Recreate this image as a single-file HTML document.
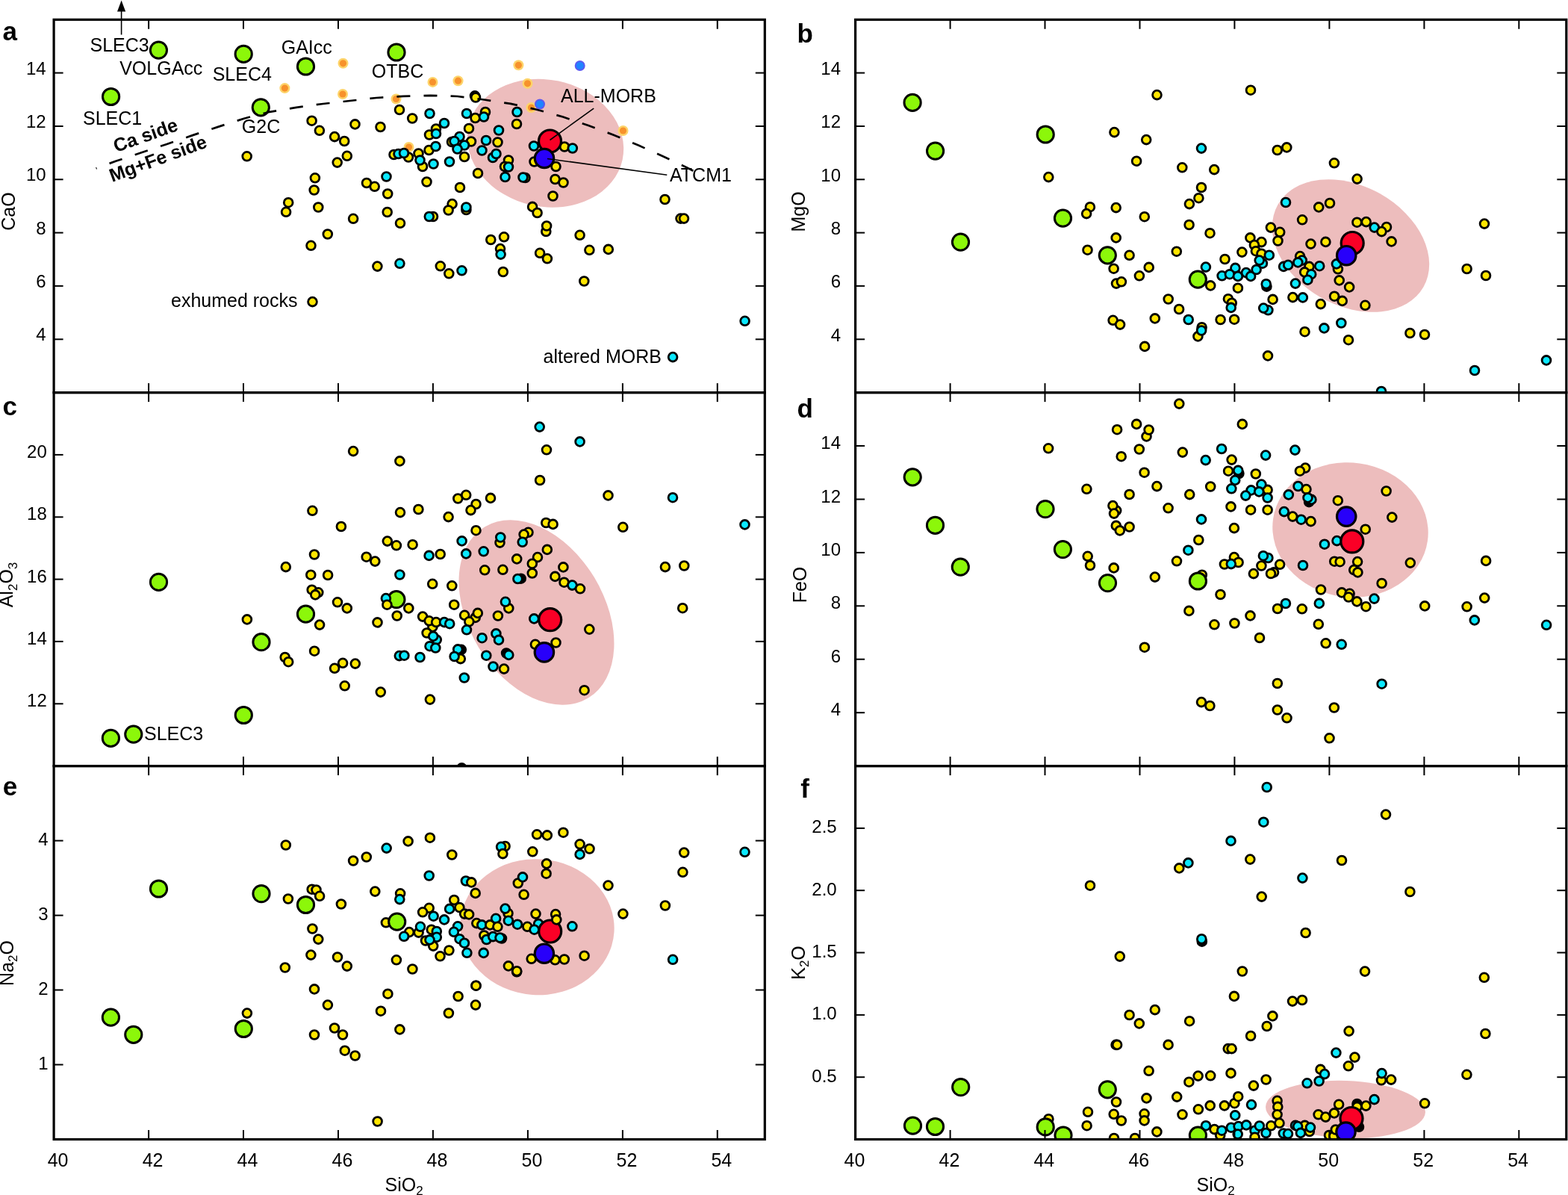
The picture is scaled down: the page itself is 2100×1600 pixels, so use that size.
<!DOCTYPE html><html><head><meta charset="utf-8"><style>html,body{margin:0;padding:0;background:#fff;overflow:hidden}svg{display:block}</style></head><body><svg xmlns="http://www.w3.org/2000/svg" width="2100" height="1600" viewBox="0 0 2100 1600" font-family="Liberation Sans, Arial, Helvetica, sans-serif">
<rect width="2100" height="1600" fill="#fff"/>
<clipPath id="cp1"><rect x="72.1" y="26.3" width="952.2" height="499.3"/></clipPath><g clip-path="url(#cp1)">
<ellipse cx="730.5" cy="191.7" rx="105.5" ry="85" transform="rotate(12 730.5 191.7)" fill="#EDBDBD"/>
<circle cx="459.5" cy="84.8" r="7" fill="#FDD46A"/><circle cx="459.5" cy="84.8" r="4.6" fill="#F7922C"/>
<circle cx="381.4" cy="118.1" r="7" fill="#FDD46A"/><circle cx="381.4" cy="118.1" r="4.6" fill="#F7922C"/>
<circle cx="459.0" cy="126.0" r="7" fill="#FDD46A"/><circle cx="459.0" cy="126.0" r="4.6" fill="#F7922C"/>
<circle cx="530.5" cy="132.5" r="7" fill="#FDD46A"/><circle cx="530.5" cy="132.5" r="4.6" fill="#F7922C"/>
<circle cx="547.5" cy="197.0" r="7" fill="#FDD46A"/><circle cx="547.5" cy="197.0" r="4.6" fill="#F7922C"/>
<circle cx="694.4" cy="87.3" r="7" fill="#FDD46A"/><circle cx="694.4" cy="87.3" r="4.6" fill="#F7922C"/>
<circle cx="579.5" cy="109.9" r="7" fill="#FDD46A"/><circle cx="579.5" cy="109.9" r="4.6" fill="#F7922C"/>
<circle cx="613.5" cy="108.2" r="7" fill="#FDD46A"/><circle cx="613.5" cy="108.2" r="4.6" fill="#F7922C"/>
<circle cx="706.5" cy="111.8" r="7" fill="#FDD46A"/><circle cx="706.5" cy="111.8" r="4.6" fill="#F7922C"/>
<circle cx="711.5" cy="144.0" r="7" fill="#FDD46A"/><circle cx="711.5" cy="144.0" r="4.6" fill="#F7922C"/>
<circle cx="834.5" cy="175.0" r="7" fill="#FDD46A"/><circle cx="834.5" cy="175.0" r="4.6" fill="#F7922C"/>
<circle cx="776.7" cy="88.0" r="7" fill="#5A5AF2"/><circle cx="776.7" cy="88.0" r="5" fill="#1F84FF"/>
<circle cx="723.0" cy="139.5" r="7" fill="#5A5AF2"/><circle cx="723.0" cy="139.5" r="5" fill="#1F84FF"/>
<circle cx="212.4" cy="67.1" r="11.1" fill="#8CF70A" stroke="#000" stroke-width="3"/>
<circle cx="148.6" cy="129.5" r="11.1" fill="#8CF70A" stroke="#000" stroke-width="3"/>
<circle cx="326.2" cy="72.4" r="11.1" fill="#8CF70A" stroke="#000" stroke-width="3"/>
<circle cx="409.5" cy="89.0" r="11.1" fill="#8CF70A" stroke="#000" stroke-width="3"/>
<circle cx="531.0" cy="70.0" r="11.1" fill="#8CF70A" stroke="#000" stroke-width="3"/>
<circle cx="349.3" cy="143.8" r="11.1" fill="#8CF70A" stroke="#000" stroke-width="3"/>
<circle cx="417.6" cy="161.7" r="5.9" fill="#FFE500" stroke="#000" stroke-width="2.8"/>
<circle cx="427.9" cy="174.8" r="5.9" fill="#FFE500" stroke="#000" stroke-width="2.8"/>
<circle cx="475.5" cy="166.4" r="5.9" fill="#FFE500" stroke="#000" stroke-width="2.8"/>
<circle cx="509.5" cy="170.0" r="5.9" fill="#FFE500" stroke="#000" stroke-width="2.8"/>
<circle cx="448.1" cy="183.1" r="5.9" fill="#FFE500" stroke="#000" stroke-width="2.8"/>
<circle cx="461.2" cy="189.0" r="5.9" fill="#FFE500" stroke="#000" stroke-width="2.8"/>
<circle cx="464.8" cy="208.8" r="5.9" fill="#FFE500" stroke="#000" stroke-width="2.8"/>
<circle cx="451.7" cy="217.6" r="5.9" fill="#FFE500" stroke="#000" stroke-width="2.8"/>
<circle cx="330.7" cy="209.3" r="5.9" fill="#FFE500" stroke="#000" stroke-width="2.8"/>
<circle cx="421.9" cy="238.3" r="5.9" fill="#FFE500" stroke="#000" stroke-width="2.8"/>
<circle cx="420.7" cy="254.5" r="5.9" fill="#FFE500" stroke="#000" stroke-width="2.8"/>
<circle cx="491.0" cy="245.0" r="5.9" fill="#FFE500" stroke="#000" stroke-width="2.8"/>
<circle cx="501.7" cy="249.8" r="5.9" fill="#FFE500" stroke="#000" stroke-width="2.8"/>
<circle cx="519.2" cy="259.5" r="5.9" fill="#FFE500" stroke="#000" stroke-width="2.8"/>
<circle cx="386.2" cy="271.2" r="5.9" fill="#FFE500" stroke="#000" stroke-width="2.8"/>
<circle cx="383.1" cy="283.8" r="5.9" fill="#FFE500" stroke="#000" stroke-width="2.8"/>
<circle cx="426.3" cy="277.5" r="5.9" fill="#FFE500" stroke="#000" stroke-width="2.8"/>
<circle cx="473.1" cy="292.8" r="5.9" fill="#FFE500" stroke="#000" stroke-width="2.8"/>
<circle cx="518.7" cy="284.0" r="5.9" fill="#FFE500" stroke="#000" stroke-width="2.8"/>
<circle cx="536.0" cy="298.8" r="5.9" fill="#FFE500" stroke="#000" stroke-width="2.8"/>
<circle cx="438.8" cy="313.5" r="5.9" fill="#FFE500" stroke="#000" stroke-width="2.8"/>
<circle cx="416.5" cy="328.8" r="5.9" fill="#FFE500" stroke="#000" stroke-width="2.8"/>
<circle cx="505.4" cy="356.6" r="5.9" fill="#FFE500" stroke="#000" stroke-width="2.8"/>
<circle cx="418.5" cy="404.1" r="5.9" fill="#FFE500" stroke="#000" stroke-width="2.8"/>
<circle cx="535.4" cy="352.8" r="5.9" fill="#0BE8FF" stroke="#000" stroke-width="2.8"/>
<circle cx="636.0" cy="128.3" r="5.9" fill="#FFE500" stroke="#000" stroke-width="2.8"/>
<circle cx="637.0" cy="130.5" r="5.9" fill="#FFE500" stroke="#000" stroke-width="2.8"/>
<circle cx="535.0" cy="147.0" r="5.9" fill="#FFE500" stroke="#000" stroke-width="2.8"/>
<circle cx="552.2" cy="158.5" r="5.9" fill="#FFE500" stroke="#000" stroke-width="2.8"/>
<circle cx="575.5" cy="152.0" r="5.9" fill="#0BE8FF" stroke="#000" stroke-width="2.8"/>
<circle cx="625.0" cy="152.0" r="5.9" fill="#0BE8FF" stroke="#000" stroke-width="2.8"/>
<circle cx="636.5" cy="158.0" r="5.9" fill="#FFE500" stroke="#000" stroke-width="2.8"/>
<circle cx="650.0" cy="150.0" r="5.9" fill="#FFE500" stroke="#000" stroke-width="2.8"/>
<circle cx="648.0" cy="156.5" r="5.9" fill="#0BE8FF" stroke="#000" stroke-width="2.8"/>
<circle cx="692.5" cy="150.0" r="5.9" fill="#0BE8FF" stroke="#000" stroke-width="2.8"/>
<circle cx="692.0" cy="166.0" r="5.9" fill="#FFE500" stroke="#000" stroke-width="2.8"/>
<circle cx="584.0" cy="172.5" r="5.9" fill="#FFE500" stroke="#000" stroke-width="2.8"/>
<circle cx="595.0" cy="165.0" r="5.9" fill="#0BE8FF" stroke="#000" stroke-width="2.8"/>
<circle cx="575.0" cy="180.5" r="5.9" fill="#FFE500" stroke="#000" stroke-width="2.8"/>
<circle cx="584.0" cy="179.0" r="5.9" fill="#0BE8FF" stroke="#000" stroke-width="2.8"/>
<circle cx="628.0" cy="172.0" r="5.9" fill="#FFE500" stroke="#000" stroke-width="2.8"/>
<circle cx="668.0" cy="174.5" r="5.9" fill="#0BE8FF" stroke="#000" stroke-width="2.8"/>
<circle cx="615.5" cy="183.0" r="5.9" fill="#0BE8FF" stroke="#000" stroke-width="2.8"/>
<circle cx="605.0" cy="190.0" r="5.9" fill="#FFE500" stroke="#000" stroke-width="2.8"/>
<circle cx="608.5" cy="189.0" r="5.9" fill="#0BE8FF" stroke="#000" stroke-width="2.8"/>
<circle cx="631.0" cy="189.5" r="5.9" fill="#FFE500" stroke="#000" stroke-width="2.8"/>
<circle cx="651.0" cy="188.0" r="5.9" fill="#0BE8FF" stroke="#000" stroke-width="2.8"/>
<circle cx="666.5" cy="190.5" r="5.9" fill="#FFE500" stroke="#000" stroke-width="2.8"/>
<circle cx="622.0" cy="194.5" r="5.9" fill="#0BE8FF" stroke="#000" stroke-width="2.8"/>
<circle cx="612.5" cy="199.5" r="5.9" fill="#0BE8FF" stroke="#000" stroke-width="2.8"/>
<circle cx="622.0" cy="210.0" r="5.9" fill="#FFE500" stroke="#000" stroke-width="2.8"/>
<circle cx="645.5" cy="201.5" r="5.9" fill="#0BE8FF" stroke="#000" stroke-width="2.8"/>
<circle cx="660.0" cy="211.0" r="5.9" fill="#0BE8FF" stroke="#000" stroke-width="2.8"/>
<circle cx="664.5" cy="206.0" r="5.9" fill="#0BE8FF" stroke="#000" stroke-width="2.8"/>
<circle cx="681.0" cy="214.5" r="5.9" fill="#FFE500" stroke="#000" stroke-width="2.8"/>
<circle cx="676.0" cy="223.0" r="5.9" fill="#FFE500" stroke="#000" stroke-width="2.8"/>
<circle cx="681.0" cy="223.5" r="5.9" fill="#0BE8FF" stroke="#000" stroke-width="2.8"/>
<circle cx="676.5" cy="237.0" r="5.9" fill="#0BE8FF" stroke="#000" stroke-width="2.8"/>
<circle cx="703.5" cy="238.0" r="5.9" fill="#FFE500" stroke="#000" stroke-width="2.8"/>
<circle cx="700.5" cy="237.5" r="5.9" fill="#0BE8FF" stroke="#000" stroke-width="2.8"/>
<circle cx="640.0" cy="232.0" r="5.9" fill="#FFE500" stroke="#000" stroke-width="2.8"/>
<circle cx="616.0" cy="251.0" r="5.9" fill="#FFE500" stroke="#000" stroke-width="2.8"/>
<circle cx="571.5" cy="243.5" r="5.9" fill="#FFE500" stroke="#000" stroke-width="2.8"/>
<circle cx="517.5" cy="236.5" r="5.9" fill="#0BE8FF" stroke="#000" stroke-width="2.8"/>
<circle cx="527.5" cy="207.0" r="5.9" fill="#FFE500" stroke="#000" stroke-width="2.8"/>
<circle cx="533.5" cy="206.0" r="5.9" fill="#0BE8FF" stroke="#000" stroke-width="2.8"/>
<circle cx="547.0" cy="210.5" r="5.9" fill="#FFE500" stroke="#000" stroke-width="2.8"/>
<circle cx="541.0" cy="205.0" r="5.9" fill="#0BE8FF" stroke="#000" stroke-width="2.8"/>
<circle cx="560.5" cy="205.5" r="5.9" fill="#FFE500" stroke="#000" stroke-width="2.8"/>
<circle cx="566.0" cy="223.0" r="5.9" fill="#FFE500" stroke="#000" stroke-width="2.8"/>
<circle cx="562.5" cy="214.5" r="5.9" fill="#0BE8FF" stroke="#000" stroke-width="2.8"/>
<circle cx="574.5" cy="201.0" r="5.9" fill="#FFE500" stroke="#000" stroke-width="2.8"/>
<circle cx="583.5" cy="196.0" r="5.9" fill="#0BE8FF" stroke="#000" stroke-width="2.8"/>
<circle cx="580.5" cy="219.5" r="5.9" fill="#0BE8FF" stroke="#000" stroke-width="2.8"/>
<circle cx="602.0" cy="216.5" r="5.9" fill="#0BE8FF" stroke="#000" stroke-width="2.8"/>
<circle cx="715.0" cy="195.5" r="5.9" fill="#0BE8FF" stroke="#000" stroke-width="2.8"/>
<circle cx="715.5" cy="216.5" r="5.9" fill="#FFE500" stroke="#000" stroke-width="2.8"/>
<circle cx="605.6" cy="273.1" r="5.9" fill="#FFE500" stroke="#000" stroke-width="2.8"/>
<circle cx="600.6" cy="281.5" r="5.9" fill="#FFE500" stroke="#000" stroke-width="2.8"/>
<circle cx="624.4" cy="281.0" r="5.9" fill="#FFE500" stroke="#000" stroke-width="2.8"/>
<circle cx="624.4" cy="277.5" r="5.9" fill="#0BE8FF" stroke="#000" stroke-width="2.8"/>
<circle cx="713.1" cy="276.9" r="5.9" fill="#FFE500" stroke="#000" stroke-width="2.8"/>
<circle cx="756.0" cy="196.5" r="5.9" fill="#FFE500" stroke="#000" stroke-width="2.8"/>
<circle cx="766.8" cy="198.5" r="5.9" fill="#0BE8FF" stroke="#000" stroke-width="2.8"/>
<circle cx="743.5" cy="240.0" r="5.9" fill="#FFE500" stroke="#000" stroke-width="2.8"/>
<circle cx="754.5" cy="244.5" r="5.9" fill="#FFE500" stroke="#000" stroke-width="2.8"/>
<circle cx="740.5" cy="262.5" r="5.9" fill="#FFE500" stroke="#000" stroke-width="2.8"/>
<circle cx="890.5" cy="267.0" r="5.9" fill="#FFE500" stroke="#000" stroke-width="2.8"/>
<circle cx="719.6" cy="285.0" r="5.9" fill="#FFE500" stroke="#000" stroke-width="2.8"/>
<circle cx="580.0" cy="290.0" r="5.9" fill="#FFE500" stroke="#000" stroke-width="2.8"/>
<circle cx="574.8" cy="290.0" r="5.9" fill="#0BE8FF" stroke="#000" stroke-width="2.8"/>
<circle cx="731.3" cy="310.0" r="5.9" fill="#FFE500" stroke="#000" stroke-width="2.8"/>
<circle cx="732.1" cy="302.5" r="5.9" fill="#FFE500" stroke="#000" stroke-width="2.8"/>
<circle cx="776.6" cy="314.8" r="5.9" fill="#FFE500" stroke="#000" stroke-width="2.8"/>
<circle cx="657.3" cy="321.0" r="5.9" fill="#FFE500" stroke="#000" stroke-width="2.8"/>
<circle cx="675.0" cy="317.3" r="5.9" fill="#FFE500" stroke="#000" stroke-width="2.8"/>
<circle cx="670.0" cy="333.1" r="5.9" fill="#FFE500" stroke="#000" stroke-width="2.8"/>
<circle cx="670.6" cy="340.6" r="5.9" fill="#0BE8FF" stroke="#000" stroke-width="2.8"/>
<circle cx="723.1" cy="338.8" r="5.9" fill="#FFE500" stroke="#000" stroke-width="2.8"/>
<circle cx="732.9" cy="346.3" r="5.9" fill="#FFE500" stroke="#000" stroke-width="2.8"/>
<circle cx="789.4" cy="334.8" r="5.9" fill="#FFE500" stroke="#000" stroke-width="2.8"/>
<circle cx="589.8" cy="356.3" r="5.9" fill="#FFE500" stroke="#000" stroke-width="2.8"/>
<circle cx="601.3" cy="366.3" r="5.9" fill="#FFE500" stroke="#000" stroke-width="2.8"/>
<circle cx="618.5" cy="362.3" r="5.9" fill="#0BE8FF" stroke="#000" stroke-width="2.8"/>
<circle cx="673.8" cy="364.0" r="5.9" fill="#FFE500" stroke="#000" stroke-width="2.8"/>
<circle cx="782.3" cy="376.5" r="5.9" fill="#FFE500" stroke="#000" stroke-width="2.8"/>
<circle cx="911.5" cy="292.6" r="5.9" fill="#FFE500" stroke="#000" stroke-width="2.8"/>
<circle cx="916.0" cy="292.6" r="5.9" fill="#FFE500" stroke="#000" stroke-width="2.8"/>
<circle cx="814.8" cy="333.9" r="5.9" fill="#FFE500" stroke="#000" stroke-width="2.8"/>
<circle cx="997.6" cy="429.8" r="5.9" fill="#0BE8FF" stroke="#000" stroke-width="2.8"/>
<circle cx="901.1" cy="478.1" r="5.9" fill="#0BE8FF" stroke="#000" stroke-width="2.8"/>
<circle cx="736.5" cy="189.0" r="15" fill="#FA0026" stroke="#000" stroke-width="3.2"/>
<circle cx="729.0" cy="212.0" r="12.7" fill="#2800FA" stroke="#000" stroke-width="3.2"/>
<circle cx="744.5" cy="223.0" r="5.9" fill="#FFE500" stroke="#000" stroke-width="2.8"/>
</g>
<path d="M128.6,225.4 L155,215.8 L189.5,204.2 L223.5,193 L258,181.1 L292,169.9 L326.7,158.7 L361.2,149.8 L396.9,143.8 L432.7,139 L468.4,135 L504,131 L540.4,128.9 L576.5,127.8 L612.8,129 L648.5,133.5 L684,138.9 L718.8,146.7 L754,156.5 L788,168 L821.8,180.7 L855,194.5 L887.8,209.3 L920.5,224.6 L928.4,228.8" fill="none" stroke="#000" stroke-width="2.7" stroke-dasharray="18 18.1" stroke-dashoffset="17"/>
<line x1="795.2" y1="145.1" x2="736.5" y2="187.5" stroke="#000" stroke-width="1.6"/>
<line x1="893.3" y1="234.2" x2="733" y2="212.5" stroke="#000" stroke-width="1.6"/>
<text x="120.5" y="69" font-size="25">SLEC3</text>
<text x="160.2" y="100.4" font-size="25">VOLGAcc</text>
<text x="284.7" y="107.5" font-size="25">SLEC4</text>
<text x="376.7" y="72.4" font-size="25">GAIcc</text>
<text x="497.8" y="103.8" font-size="25">OTBC</text>
<text x="111" y="167" font-size="25">SLEC1</text>
<text x="323.8" y="177.6" font-size="25">G2C</text>
<text x="751" y="137" font-size="25">ALL-MORB</text>
<text x="897" y="243.4" font-size="25">ATCM1</text>
<text x="229" y="410.6" font-size="25">exhumed rocks</text>
<text x="727.5" y="486.2" font-size="25">altered MORB</text>
<text transform="translate(155.5,204.3) rotate(-19.6)" font-size="25.2" font-weight="bold">Ca side</text>
<text transform="translate(150.3,244) rotate(-20.2)" font-size="25" font-weight="bold">Mg+Fe side</text>
<line x1="162.6" y1="46.5" x2="162.6" y2="12" stroke="#000" stroke-width="1.6"/>
<path d="M162.6,0.5 L157,15.5 L168.2,15.5 Z" fill="#000"/>
<rect x="72.1" y="26.3" width="952.2" height="499.3" fill="none" stroke="#000" stroke-width="3.2"/>
<line x1="199.1" y1="26.3" x2="199.1" y2="38.8" stroke="#000" stroke-width="2"/>
<line x1="199.1" y1="525.6" x2="199.1" y2="513.1" stroke="#000" stroke-width="2"/>
<line x1="326.0" y1="26.3" x2="326.0" y2="38.8" stroke="#000" stroke-width="2"/>
<line x1="326.0" y1="525.6" x2="326.0" y2="513.1" stroke="#000" stroke-width="2"/>
<line x1="453.0" y1="26.3" x2="453.0" y2="38.8" stroke="#000" stroke-width="2"/>
<line x1="453.0" y1="525.6" x2="453.0" y2="513.1" stroke="#000" stroke-width="2"/>
<line x1="579.9" y1="26.3" x2="579.9" y2="38.8" stroke="#000" stroke-width="2"/>
<line x1="579.9" y1="525.6" x2="579.9" y2="513.1" stroke="#000" stroke-width="2"/>
<line x1="706.9" y1="26.3" x2="706.9" y2="38.8" stroke="#000" stroke-width="2"/>
<line x1="706.9" y1="525.6" x2="706.9" y2="513.1" stroke="#000" stroke-width="2"/>
<line x1="833.9" y1="26.3" x2="833.9" y2="38.8" stroke="#000" stroke-width="2"/>
<line x1="833.9" y1="525.6" x2="833.9" y2="513.1" stroke="#000" stroke-width="2"/>
<line x1="960.8" y1="26.3" x2="960.8" y2="38.8" stroke="#000" stroke-width="2"/>
<line x1="960.8" y1="525.6" x2="960.8" y2="513.1" stroke="#000" stroke-width="2"/>
<line x1="72.1" y1="454.3" x2="84.6" y2="454.3" stroke="#000" stroke-width="2"/>
<line x1="1024.3" y1="454.3" x2="1011.8" y2="454.3" stroke="#000" stroke-width="2"/>
<text x="61.7" y="456.3" text-anchor="end" font-size="24">4</text>
<line x1="72.1" y1="382.9" x2="84.6" y2="382.9" stroke="#000" stroke-width="2"/>
<line x1="1024.3" y1="382.9" x2="1011.8" y2="382.9" stroke="#000" stroke-width="2"/>
<text x="61.7" y="384.9" text-anchor="end" font-size="24">6</text>
<line x1="72.1" y1="311.6" x2="84.6" y2="311.6" stroke="#000" stroke-width="2"/>
<line x1="1024.3" y1="311.6" x2="1011.8" y2="311.6" stroke="#000" stroke-width="2"/>
<text x="61.7" y="313.6" text-anchor="end" font-size="24">8</text>
<line x1="72.1" y1="240.3" x2="84.6" y2="240.3" stroke="#000" stroke-width="2"/>
<line x1="1024.3" y1="240.3" x2="1011.8" y2="240.3" stroke="#000" stroke-width="2"/>
<text x="61.7" y="242.3" text-anchor="end" font-size="24">10</text>
<line x1="72.1" y1="169.0" x2="84.6" y2="169.0" stroke="#000" stroke-width="2"/>
<line x1="1024.3" y1="169.0" x2="1011.8" y2="169.0" stroke="#000" stroke-width="2"/>
<text x="61.7" y="171.0" text-anchor="end" font-size="24">12</text>
<line x1="72.1" y1="97.6" x2="84.6" y2="97.6" stroke="#000" stroke-width="2"/>
<line x1="1024.3" y1="97.6" x2="1011.8" y2="97.6" stroke="#000" stroke-width="2"/>
<text x="61.7" y="99.6" text-anchor="end" font-size="24">14</text>
<clipPath id="cp2"><rect x="1145.6" y="26.3" width="952.2" height="499.3"/></clipPath><g clip-path="url(#cp2)">
<ellipse cx="1809" cy="329" rx="112" ry="80" transform="rotate(29.4 1809 329)" fill="#EDBDBD"/>
<circle cx="1222.1" cy="137.4" r="11.1" fill="#8CF70A" stroke="#000" stroke-width="3"/>
<circle cx="1252.6" cy="202.1" r="11.1" fill="#8CF70A" stroke="#000" stroke-width="3"/>
<circle cx="1400.2" cy="180.0" r="11.1" fill="#8CF70A" stroke="#000" stroke-width="3"/>
<circle cx="1286.5" cy="324.1" r="11.1" fill="#8CF70A" stroke="#000" stroke-width="3"/>
<circle cx="1423.5" cy="292.1" r="11.1" fill="#8CF70A" stroke="#000" stroke-width="3"/>
<circle cx="1483.3" cy="341.8" r="11.1" fill="#8CF70A" stroke="#000" stroke-width="3"/>
<circle cx="1604.3" cy="374.1" r="11.1" fill="#8CF70A" stroke="#000" stroke-width="3"/>
<circle cx="1549.5" cy="127.1" r="5.9" fill="#FFE500" stroke="#000" stroke-width="2.8"/>
<circle cx="1675.0" cy="120.7" r="5.9" fill="#FFE500" stroke="#000" stroke-width="2.8"/>
<circle cx="1492.4" cy="177.1" r="5.9" fill="#FFE500" stroke="#000" stroke-width="2.8"/>
<circle cx="1535.2" cy="187.1" r="5.9" fill="#FFE500" stroke="#000" stroke-width="2.8"/>
<circle cx="1609.0" cy="198.6" r="5.9" fill="#0BE8FF" stroke="#000" stroke-width="2.8"/>
<circle cx="1522.1" cy="215.7" r="5.9" fill="#FFE500" stroke="#000" stroke-width="2.8"/>
<circle cx="1583.3" cy="224.3" r="5.9" fill="#FFE500" stroke="#000" stroke-width="2.8"/>
<circle cx="1626.2" cy="227.1" r="5.9" fill="#FFE500" stroke="#000" stroke-width="2.8"/>
<circle cx="1404.3" cy="237.1" r="5.9" fill="#FFE500" stroke="#000" stroke-width="2.8"/>
<circle cx="1609.0" cy="251.0" r="5.9" fill="#FFE500" stroke="#000" stroke-width="2.8"/>
<circle cx="1605.4" cy="265.2" r="5.9" fill="#FFE500" stroke="#000" stroke-width="2.8"/>
<circle cx="1592.9" cy="273.1" r="5.9" fill="#FFE500" stroke="#000" stroke-width="2.8"/>
<circle cx="1710.7" cy="201.0" r="5.9" fill="#FFE500" stroke="#000" stroke-width="2.8"/>
<circle cx="1723.3" cy="197.4" r="5.9" fill="#FFE500" stroke="#000" stroke-width="2.8"/>
<circle cx="1786.9" cy="218.3" r="5.9" fill="#FFE500" stroke="#000" stroke-width="2.8"/>
<circle cx="1817.6" cy="239.6" r="5.9" fill="#FFE500" stroke="#000" stroke-width="2.8"/>
<circle cx="1722.0" cy="271.0" r="5.9" fill="#0BE8FF" stroke="#000" stroke-width="2.8"/>
<circle cx="1766.2" cy="277.4" r="5.9" fill="#FFE500" stroke="#000" stroke-width="2.8"/>
<circle cx="1781.0" cy="272.0" r="5.9" fill="#FFE500" stroke="#000" stroke-width="2.8"/>
<circle cx="1459.9" cy="277.2" r="5.9" fill="#FFE500" stroke="#000" stroke-width="2.8"/>
<circle cx="1455.1" cy="286.1" r="5.9" fill="#FFE500" stroke="#000" stroke-width="2.8"/>
<circle cx="1494.7" cy="278.1" r="5.9" fill="#FFE500" stroke="#000" stroke-width="2.8"/>
<circle cx="1532.8" cy="290.2" r="5.9" fill="#FFE500" stroke="#000" stroke-width="2.8"/>
<circle cx="1592.6" cy="301.0" r="5.9" fill="#FFE500" stroke="#000" stroke-width="2.8"/>
<circle cx="1620.5" cy="312.2" r="5.9" fill="#FFE500" stroke="#000" stroke-width="2.8"/>
<circle cx="1494.7" cy="318.4" r="5.9" fill="#FFE500" stroke="#000" stroke-width="2.8"/>
<circle cx="1456.5" cy="334.7" r="5.9" fill="#FFE500" stroke="#000" stroke-width="2.8"/>
<circle cx="1512.6" cy="341.8" r="5.9" fill="#FFE500" stroke="#000" stroke-width="2.8"/>
<circle cx="1575.8" cy="336.7" r="5.9" fill="#FFE500" stroke="#000" stroke-width="2.8"/>
<circle cx="1491.6" cy="359.7" r="5.9" fill="#FFE500" stroke="#000" stroke-width="2.8"/>
<circle cx="1538.7" cy="357.9" r="5.9" fill="#FFE500" stroke="#000" stroke-width="2.8"/>
<circle cx="1525.9" cy="369.3" r="5.9" fill="#FFE500" stroke="#000" stroke-width="2.8"/>
<circle cx="1495.0" cy="379.6" r="5.9" fill="#FFE500" stroke="#000" stroke-width="2.8"/>
<circle cx="1501.9" cy="377.3" r="5.9" fill="#FFE500" stroke="#000" stroke-width="2.8"/>
<circle cx="1614.9" cy="357.6" r="5.9" fill="#0BE8FF" stroke="#000" stroke-width="2.8"/>
<circle cx="1621.2" cy="382.4" r="5.9" fill="#FFE500" stroke="#000" stroke-width="2.8"/>
<circle cx="1640.5" cy="347.0" r="5.9" fill="#FFE500" stroke="#000" stroke-width="2.8"/>
<circle cx="1636.6" cy="369.3" r="5.9" fill="#0BE8FF" stroke="#000" stroke-width="2.8"/>
<circle cx="1564.7" cy="400.5" r="5.9" fill="#FFE500" stroke="#000" stroke-width="2.8"/>
<circle cx="1579.1" cy="414.0" r="5.9" fill="#FFE500" stroke="#000" stroke-width="2.8"/>
<circle cx="1644.9" cy="400.2" r="5.9" fill="#FFE500" stroke="#000" stroke-width="2.8"/>
<circle cx="1649.7" cy="405.7" r="5.9" fill="#FFE500" stroke="#000" stroke-width="2.8"/>
<circle cx="1648.7" cy="411.9" r="5.9" fill="#0BE8FF" stroke="#000" stroke-width="2.8"/>
<circle cx="1490.6" cy="428.8" r="5.9" fill="#FFE500" stroke="#000" stroke-width="2.8"/>
<circle cx="1500.1" cy="434.6" r="5.9" fill="#FFE500" stroke="#000" stroke-width="2.8"/>
<circle cx="1546.8" cy="426.4" r="5.9" fill="#FFE500" stroke="#000" stroke-width="2.8"/>
<circle cx="1591.7" cy="428.0" r="5.9" fill="#0BE8FF" stroke="#000" stroke-width="2.8"/>
<circle cx="1604.4" cy="450.4" r="5.9" fill="#FFE500" stroke="#000" stroke-width="2.8"/>
<circle cx="1609.6" cy="438.2" r="5.9" fill="#FFE500" stroke="#000" stroke-width="2.8"/>
<circle cx="1609.1" cy="442.5" r="5.9" fill="#0BE8FF" stroke="#000" stroke-width="2.8"/>
<circle cx="1634.6" cy="428.0" r="5.9" fill="#FFE500" stroke="#000" stroke-width="2.8"/>
<circle cx="1653.1" cy="427.7" r="5.9" fill="#FFE500" stroke="#000" stroke-width="2.8"/>
<circle cx="1533.1" cy="463.9" r="5.9" fill="#FFE500" stroke="#000" stroke-width="2.8"/>
<circle cx="1744.1" cy="294.3" r="5.9" fill="#FFE500" stroke="#000" stroke-width="2.8"/>
<circle cx="1817.4" cy="297.7" r="5.9" fill="#FFE500" stroke="#000" stroke-width="2.8"/>
<circle cx="1829.7" cy="297.1" r="5.9" fill="#FFE500" stroke="#000" stroke-width="2.8"/>
<circle cx="1840.7" cy="304.6" r="5.9" fill="#0BE8FF" stroke="#000" stroke-width="2.8"/>
<circle cx="1857.0" cy="304.0" r="5.9" fill="#FFE500" stroke="#000" stroke-width="2.8"/>
<circle cx="1850.4" cy="310.1" r="5.9" fill="#FFE500" stroke="#000" stroke-width="2.8"/>
<circle cx="1863.6" cy="323.4" r="5.9" fill="#FFE500" stroke="#000" stroke-width="2.8"/>
<circle cx="1701.9" cy="304.6" r="5.9" fill="#FFE500" stroke="#000" stroke-width="2.8"/>
<circle cx="1714.2" cy="310.8" r="5.9" fill="#FFE500" stroke="#000" stroke-width="2.8"/>
<circle cx="1711.5" cy="322.5" r="5.9" fill="#FFE500" stroke="#000" stroke-width="2.8"/>
<circle cx="1674.4" cy="318.4" r="5.9" fill="#FFE500" stroke="#000" stroke-width="2.8"/>
<circle cx="1689.5" cy="324.1" r="5.9" fill="#FFE500" stroke="#000" stroke-width="2.8"/>
<circle cx="1679.9" cy="328.0" r="5.9" fill="#FFE500" stroke="#000" stroke-width="2.8"/>
<circle cx="1681.9" cy="336.2" r="5.9" fill="#FFE500" stroke="#000" stroke-width="2.8"/>
<circle cx="1689.5" cy="339.7" r="5.9" fill="#FFE500" stroke="#000" stroke-width="2.8"/>
<circle cx="1699.8" cy="341.7" r="5.9" fill="#0BE8FF" stroke="#000" stroke-width="2.8"/>
<circle cx="1690.9" cy="352.7" r="5.9" fill="#0BE8FF" stroke="#000" stroke-width="2.8"/>
<circle cx="1686.7" cy="348.6" r="5.9" fill="#0BE8FF" stroke="#000" stroke-width="2.8"/>
<circle cx="1663.4" cy="337.6" r="5.9" fill="#FFE500" stroke="#000" stroke-width="2.8"/>
<circle cx="1654.4" cy="358.9" r="5.9" fill="#0BE8FF" stroke="#000" stroke-width="2.8"/>
<circle cx="1646.9" cy="367.2" r="5.9" fill="#0BE8FF" stroke="#000" stroke-width="2.8"/>
<circle cx="1657.9" cy="369.9" r="5.9" fill="#0BE8FF" stroke="#000" stroke-width="2.8"/>
<circle cx="1668.9" cy="365.1" r="5.9" fill="#0BE8FF" stroke="#000" stroke-width="2.8"/>
<circle cx="1675.1" cy="369.9" r="5.9" fill="#0BE8FF" stroke="#000" stroke-width="2.8"/>
<circle cx="1682.6" cy="361.0" r="5.9" fill="#0BE8FF" stroke="#000" stroke-width="2.8"/>
<circle cx="1657.9" cy="385.7" r="5.9" fill="#FFE500" stroke="#000" stroke-width="2.8"/>
<circle cx="1696.4" cy="383.7" r="5.9" fill="#000" stroke="#000" stroke-width="2.8"/>
<circle cx="1695.7" cy="380.2" r="5.9" fill="#0BE8FF" stroke="#000" stroke-width="2.8"/>
<circle cx="1704.6" cy="400.9" r="5.9" fill="#FFE500" stroke="#000" stroke-width="2.8"/>
<circle cx="1698.4" cy="415.3" r="5.9" fill="#0BE8FF" stroke="#000" stroke-width="2.8"/>
<circle cx="1692.2" cy="412.6" r="5.9" fill="#0BE8FF" stroke="#000" stroke-width="2.8"/>
<circle cx="1755.5" cy="326.6" r="5.9" fill="#FFE500" stroke="#000" stroke-width="2.8"/>
<circle cx="1775.4" cy="323.9" r="5.9" fill="#FFE500" stroke="#000" stroke-width="2.8"/>
<circle cx="1791.9" cy="360.3" r="5.9" fill="#FFE500" stroke="#000" stroke-width="2.8"/>
<circle cx="1789.9" cy="353.4" r="5.9" fill="#0BE8FF" stroke="#000" stroke-width="2.8"/>
<circle cx="1741.1" cy="343.1" r="5.9" fill="#FFE500" stroke="#000" stroke-width="2.8"/>
<circle cx="1719.1" cy="356.9" r="5.9" fill="#0BE8FF" stroke="#000" stroke-width="2.8"/>
<circle cx="1725.2" cy="354.8" r="5.9" fill="#0BE8FF" stroke="#000" stroke-width="2.8"/>
<circle cx="1743.8" cy="348.6" r="5.9" fill="#0BE8FF" stroke="#000" stroke-width="2.8"/>
<circle cx="1738.3" cy="351.4" r="5.9" fill="#0BE8FF" stroke="#000" stroke-width="2.8"/>
<circle cx="1753.4" cy="356.9" r="5.9" fill="#FFE500" stroke="#000" stroke-width="2.8"/>
<circle cx="1767.2" cy="356.2" r="5.9" fill="#0BE8FF" stroke="#000" stroke-width="2.8"/>
<circle cx="1747.2" cy="364.4" r="5.9" fill="#FFE500" stroke="#000" stroke-width="2.8"/>
<circle cx="1756.2" cy="367.2" r="5.9" fill="#0BE8FF" stroke="#000" stroke-width="2.8"/>
<circle cx="1751.4" cy="374.7" r="5.9" fill="#0BE8FF" stroke="#000" stroke-width="2.8"/>
<circle cx="1734.9" cy="379.6" r="5.9" fill="#0BE8FF" stroke="#000" stroke-width="2.8"/>
<circle cx="1793.7" cy="375.4" r="5.9" fill="#FFE500" stroke="#000" stroke-width="2.8"/>
<circle cx="1807.1" cy="384.4" r="5.9" fill="#FFE500" stroke="#000" stroke-width="2.8"/>
<circle cx="1731.4" cy="398.1" r="5.9" fill="#FFE500" stroke="#000" stroke-width="2.8"/>
<circle cx="1744.8" cy="398.4" r="5.9" fill="#0BE8FF" stroke="#000" stroke-width="2.8"/>
<circle cx="1787.1" cy="396.7" r="5.9" fill="#FFE500" stroke="#000" stroke-width="2.8"/>
<circle cx="1797.7" cy="402.9" r="5.9" fill="#FFE500" stroke="#000" stroke-width="2.8"/>
<circle cx="1768.8" cy="407.1" r="5.9" fill="#FFE500" stroke="#000" stroke-width="2.8"/>
<circle cx="1828.4" cy="408.8" r="5.9" fill="#FFE500" stroke="#000" stroke-width="2.8"/>
<circle cx="1796.3" cy="432.5" r="5.9" fill="#0BE8FF" stroke="#000" stroke-width="2.8"/>
<circle cx="1773.4" cy="439.4" r="5.9" fill="#0BE8FF" stroke="#000" stroke-width="2.8"/>
<circle cx="1747.5" cy="444.2" r="5.9" fill="#FFE500" stroke="#000" stroke-width="2.8"/>
<circle cx="1806.0" cy="455.2" r="5.9" fill="#FFE500" stroke="#000" stroke-width="2.8"/>
<circle cx="1988.0" cy="299.6" r="5.9" fill="#FFE500" stroke="#000" stroke-width="2.8"/>
<circle cx="1964.6" cy="360.0" r="5.9" fill="#FFE500" stroke="#000" stroke-width="2.8"/>
<circle cx="1990.0" cy="369.0" r="5.9" fill="#FFE500" stroke="#000" stroke-width="2.8"/>
<circle cx="1888.4" cy="446.0" r="5.9" fill="#FFE500" stroke="#000" stroke-width="2.8"/>
<circle cx="1908.0" cy="448.0" r="5.9" fill="#FFE500" stroke="#000" stroke-width="2.8"/>
<circle cx="1698.0" cy="476.4" r="5.9" fill="#FFE500" stroke="#000" stroke-width="2.8"/>
<circle cx="1975.0" cy="496.0" r="5.9" fill="#0BE8FF" stroke="#000" stroke-width="2.8"/>
<circle cx="2071.0" cy="482.4" r="5.9" fill="#0BE8FF" stroke="#000" stroke-width="2.8"/>
<circle cx="1850.0" cy="524.0" r="5.9" fill="#0BE8FF" stroke="#000" stroke-width="2.8"/>
<circle cx="1811.2" cy="325.5" r="15" fill="#FA0026" stroke="#000" stroke-width="3.2"/>
<circle cx="1803.2" cy="342.2" r="12.7" fill="#2800FA" stroke="#000" stroke-width="3.2"/>
</g>
<rect x="1145.6" y="26.3" width="952.2" height="499.3" fill="none" stroke="#000" stroke-width="3.2"/>
<line x1="1272.6" y1="26.3" x2="1272.6" y2="38.8" stroke="#000" stroke-width="2"/>
<line x1="1272.6" y1="525.6" x2="1272.6" y2="513.1" stroke="#000" stroke-width="2"/>
<line x1="1399.5" y1="26.3" x2="1399.5" y2="38.8" stroke="#000" stroke-width="2"/>
<line x1="1399.5" y1="525.6" x2="1399.5" y2="513.1" stroke="#000" stroke-width="2"/>
<line x1="1526.5" y1="26.3" x2="1526.5" y2="38.8" stroke="#000" stroke-width="2"/>
<line x1="1526.5" y1="525.6" x2="1526.5" y2="513.1" stroke="#000" stroke-width="2"/>
<line x1="1653.4" y1="26.3" x2="1653.4" y2="38.8" stroke="#000" stroke-width="2"/>
<line x1="1653.4" y1="525.6" x2="1653.4" y2="513.1" stroke="#000" stroke-width="2"/>
<line x1="1780.4" y1="26.3" x2="1780.4" y2="38.8" stroke="#000" stroke-width="2"/>
<line x1="1780.4" y1="525.6" x2="1780.4" y2="513.1" stroke="#000" stroke-width="2"/>
<line x1="1907.4" y1="26.3" x2="1907.4" y2="38.8" stroke="#000" stroke-width="2"/>
<line x1="1907.4" y1="525.6" x2="1907.4" y2="513.1" stroke="#000" stroke-width="2"/>
<line x1="2034.3" y1="26.3" x2="2034.3" y2="38.8" stroke="#000" stroke-width="2"/>
<line x1="2034.3" y1="525.6" x2="2034.3" y2="513.1" stroke="#000" stroke-width="2"/>
<line x1="1145.6" y1="454.3" x2="1158.1" y2="454.3" stroke="#000" stroke-width="2"/>
<line x1="2097.8" y1="454.3" x2="2085.3" y2="454.3" stroke="#000" stroke-width="2"/>
<text x="1126.0" y="456.6" text-anchor="end" font-size="24">4</text>
<line x1="1145.6" y1="382.9" x2="1158.1" y2="382.9" stroke="#000" stroke-width="2"/>
<line x1="2097.8" y1="382.9" x2="2085.3" y2="382.9" stroke="#000" stroke-width="2"/>
<text x="1126.0" y="385.2" text-anchor="end" font-size="24">6</text>
<line x1="1145.6" y1="311.6" x2="1158.1" y2="311.6" stroke="#000" stroke-width="2"/>
<line x1="2097.8" y1="311.6" x2="2085.3" y2="311.6" stroke="#000" stroke-width="2"/>
<text x="1126.0" y="313.9" text-anchor="end" font-size="24">8</text>
<line x1="1145.6" y1="240.3" x2="1158.1" y2="240.3" stroke="#000" stroke-width="2"/>
<line x1="2097.8" y1="240.3" x2="2085.3" y2="240.3" stroke="#000" stroke-width="2"/>
<text x="1126.0" y="242.6" text-anchor="end" font-size="24">10</text>
<line x1="1145.6" y1="169.0" x2="1158.1" y2="169.0" stroke="#000" stroke-width="2"/>
<line x1="2097.8" y1="169.0" x2="2085.3" y2="169.0" stroke="#000" stroke-width="2"/>
<text x="1126.0" y="171.3" text-anchor="end" font-size="24">12</text>
<line x1="1145.6" y1="97.6" x2="1158.1" y2="97.6" stroke="#000" stroke-width="2"/>
<line x1="2097.8" y1="97.6" x2="2085.3" y2="97.6" stroke="#000" stroke-width="2"/>
<text x="1126.0" y="99.9" text-anchor="end" font-size="24">14</text>
<clipPath id="cp3"><rect x="72.1" y="525.6" width="952.2" height="500.0"/></clipPath><g clip-path="url(#cp3)">
<ellipse cx="718.5" cy="820" rx="134" ry="90.5" transform="rotate(58.8 718.5 820)" fill="#EDBDBD"/>
<circle cx="212.5" cy="779.4" r="11.1" fill="#8CF70A" stroke="#000" stroke-width="3"/>
<circle cx="350.0" cy="859.7" r="11.1" fill="#8CF70A" stroke="#000" stroke-width="3"/>
<circle cx="409.5" cy="822.2" r="11.1" fill="#8CF70A" stroke="#000" stroke-width="3"/>
<circle cx="326.3" cy="957.5" r="11.1" fill="#8CF70A" stroke="#000" stroke-width="3"/>
<circle cx="148.4" cy="988.4" r="11.1" fill="#8CF70A" stroke="#000" stroke-width="3"/>
<circle cx="178.8" cy="983.1" r="11.1" fill="#8CF70A" stroke="#000" stroke-width="3"/>
<circle cx="530.9" cy="802.7" r="11.1" fill="#8CF70A" stroke="#000" stroke-width="3"/>
<circle cx="418.4" cy="683.8" r="5.9" fill="#FFE500" stroke="#000" stroke-width="2.8"/>
<circle cx="456.9" cy="705.0" r="5.9" fill="#FFE500" stroke="#000" stroke-width="2.8"/>
<circle cx="421.0" cy="742.5" r="5.9" fill="#FFE500" stroke="#000" stroke-width="2.8"/>
<circle cx="382.8" cy="759.1" r="5.9" fill="#FFE500" stroke="#000" stroke-width="2.8"/>
<circle cx="416.3" cy="769.7" r="5.9" fill="#FFE500" stroke="#000" stroke-width="2.8"/>
<circle cx="439.1" cy="770.0" r="5.9" fill="#FFE500" stroke="#000" stroke-width="2.8"/>
<circle cx="417.7" cy="789.7" r="5.9" fill="#FFE500" stroke="#000" stroke-width="2.8"/>
<circle cx="426.3" cy="793.3" r="5.9" fill="#FFE500" stroke="#000" stroke-width="2.8"/>
<circle cx="422.3" cy="796.4" r="5.9" fill="#FFE500" stroke="#000" stroke-width="2.8"/>
<circle cx="452.0" cy="806.3" r="5.9" fill="#FFE500" stroke="#000" stroke-width="2.8"/>
<circle cx="330.9" cy="829.4" r="5.9" fill="#FFE500" stroke="#000" stroke-width="2.8"/>
<circle cx="428.1" cy="836.6" r="5.9" fill="#FFE500" stroke="#000" stroke-width="2.8"/>
<circle cx="421.1" cy="871.7" r="5.9" fill="#FFE500" stroke="#000" stroke-width="2.8"/>
<circle cx="381.7" cy="880.0" r="5.9" fill="#FFE500" stroke="#000" stroke-width="2.8"/>
<circle cx="386.2" cy="886.2" r="5.9" fill="#FFE500" stroke="#000" stroke-width="2.8"/>
<circle cx="448.1" cy="894.8" r="5.9" fill="#FFE500" stroke="#000" stroke-width="2.8"/>
<circle cx="459.1" cy="887.8" r="5.9" fill="#FFE500" stroke="#000" stroke-width="2.8"/>
<circle cx="475.8" cy="888.6" r="5.9" fill="#FFE500" stroke="#000" stroke-width="2.8"/>
<circle cx="461.7" cy="918.3" r="5.9" fill="#FFE500" stroke="#000" stroke-width="2.8"/>
<circle cx="464.8" cy="814.4" r="5.9" fill="#FFE500" stroke="#000" stroke-width="2.8"/>
<circle cx="473.1" cy="604.1" r="5.9" fill="#FFE500" stroke="#000" stroke-width="2.8"/>
<circle cx="535.4" cy="617.4" r="5.9" fill="#FFE500" stroke="#000" stroke-width="2.8"/>
<circle cx="536.0" cy="686.1" r="5.9" fill="#FFE500" stroke="#000" stroke-width="2.8"/>
<circle cx="560.4" cy="682.0" r="5.9" fill="#FFE500" stroke="#000" stroke-width="2.8"/>
<circle cx="613.3" cy="667.5" r="5.9" fill="#FFE500" stroke="#000" stroke-width="2.8"/>
<circle cx="624.2" cy="662.8" r="5.9" fill="#FFE500" stroke="#000" stroke-width="2.8"/>
<circle cx="600.6" cy="692.1" r="5.9" fill="#FFE500" stroke="#000" stroke-width="2.8"/>
<circle cx="518.8" cy="724.6" r="5.9" fill="#FFE500" stroke="#000" stroke-width="2.8"/>
<circle cx="530.9" cy="730.3" r="5.9" fill="#FFE500" stroke="#000" stroke-width="2.8"/>
<circle cx="552.6" cy="729.2" r="5.9" fill="#FFE500" stroke="#000" stroke-width="2.8"/>
<circle cx="618.6" cy="724.4" r="5.9" fill="#0BE8FF" stroke="#000" stroke-width="2.8"/>
<circle cx="574.6" cy="743.9" r="5.9" fill="#0BE8FF" stroke="#000" stroke-width="2.8"/>
<circle cx="589.7" cy="742.0" r="5.9" fill="#FFE500" stroke="#000" stroke-width="2.8"/>
<circle cx="624.2" cy="741.4" r="5.9" fill="#0BE8FF" stroke="#000" stroke-width="2.8"/>
<circle cx="490.7" cy="745.7" r="5.9" fill="#FFE500" stroke="#000" stroke-width="2.8"/>
<circle cx="502.3" cy="751.6" r="5.9" fill="#FFE500" stroke="#000" stroke-width="2.8"/>
<circle cx="535.4" cy="769.5" r="5.9" fill="#0BE8FF" stroke="#000" stroke-width="2.8"/>
<circle cx="579.2" cy="781.8" r="5.9" fill="#FFE500" stroke="#000" stroke-width="2.8"/>
<circle cx="605.3" cy="784.3" r="5.9" fill="#FFE500" stroke="#000" stroke-width="2.8"/>
<circle cx="516.9" cy="801.1" r="5.9" fill="#0BE8FF" stroke="#000" stroke-width="2.8"/>
<circle cx="518.4" cy="809.7" r="5.9" fill="#FFE500" stroke="#000" stroke-width="2.8"/>
<circle cx="547.3" cy="814.4" r="5.9" fill="#FFE500" stroke="#000" stroke-width="2.8"/>
<circle cx="531.7" cy="824.5" r="5.9" fill="#FFE500" stroke="#000" stroke-width="2.8"/>
<circle cx="505.5" cy="833.4" r="5.9" fill="#FFE500" stroke="#000" stroke-width="2.8"/>
<circle cx="608.2" cy="809.7" r="5.9" fill="#FFE500" stroke="#000" stroke-width="2.8"/>
<circle cx="566.1" cy="825.6" r="5.9" fill="#FFE500" stroke="#000" stroke-width="2.8"/>
<circle cx="579.4" cy="839.4" r="5.9" fill="#FFE500" stroke="#000" stroke-width="2.8"/>
<circle cx="574.7" cy="831.3" r="5.9" fill="#FFE500" stroke="#000" stroke-width="2.8"/>
<circle cx="584.1" cy="833.1" r="5.9" fill="#FFE500" stroke="#000" stroke-width="2.8"/>
<circle cx="595.0" cy="833.1" r="5.9" fill="#0BE8FF" stroke="#000" stroke-width="2.8"/>
<circle cx="602.2" cy="835.2" r="5.9" fill="#0BE8FF" stroke="#000" stroke-width="2.8"/>
<circle cx="622.1" cy="823.8" r="5.9" fill="#FFE500" stroke="#000" stroke-width="2.8"/>
<circle cx="636.7" cy="826.9" r="5.9" fill="#FFE500" stroke="#000" stroke-width="2.8"/>
<circle cx="639.8" cy="820.9" r="5.9" fill="#FFE500" stroke="#000" stroke-width="2.8"/>
<circle cx="628.3" cy="832.3" r="5.9" fill="#FFE500" stroke="#000" stroke-width="2.8"/>
<circle cx="625.0" cy="843.3" r="5.9" fill="#0BE8FF" stroke="#000" stroke-width="2.8"/>
<circle cx="571.6" cy="847.5" r="5.9" fill="#FFE500" stroke="#000" stroke-width="2.8"/>
<circle cx="584.8" cy="856.6" r="5.9" fill="#0BE8FF" stroke="#000" stroke-width="2.8"/>
<circle cx="580.2" cy="851.9" r="5.9" fill="#0BE8FF" stroke="#000" stroke-width="2.8"/>
<circle cx="575.5" cy="865.2" r="5.9" fill="#0BE8FF" stroke="#000" stroke-width="2.8"/>
<circle cx="583.3" cy="867.5" r="5.9" fill="#0BE8FF" stroke="#000" stroke-width="2.8"/>
<circle cx="617.8" cy="869.8" r="5.9" fill="#000" stroke="#000" stroke-width="2.8"/>
<circle cx="613.2" cy="869.4" r="5.9" fill="#0BE8FF" stroke="#000" stroke-width="2.8"/>
<circle cx="616.8" cy="882.1" r="5.9" fill="#FFE500" stroke="#000" stroke-width="2.8"/>
<circle cx="608.6" cy="879.0" r="5.9" fill="#0BE8FF" stroke="#000" stroke-width="2.8"/>
<circle cx="534.8" cy="878.1" r="5.9" fill="#0BE8FF" stroke="#000" stroke-width="2.8"/>
<circle cx="541.4" cy="877.7" r="5.9" fill="#0BE8FF" stroke="#000" stroke-width="2.8"/>
<circle cx="562.5" cy="880.0" r="5.9" fill="#0BE8FF" stroke="#000" stroke-width="2.8"/>
<circle cx="621.8" cy="907.5" r="5.9" fill="#0BE8FF" stroke="#000" stroke-width="2.8"/>
<circle cx="509.8" cy="926.6" r="5.9" fill="#FFE500" stroke="#000" stroke-width="2.8"/>
<circle cx="575.9" cy="936.6" r="5.9" fill="#FFE500" stroke="#000" stroke-width="2.8"/>
<circle cx="618.4" cy="1028.4" r="5.9" fill="#0BE8FF" stroke="#000" stroke-width="2.8"/>
<circle cx="722.7" cy="571.6" r="5.9" fill="#0BE8FF" stroke="#000" stroke-width="2.8"/>
<circle cx="776.6" cy="591.4" r="5.9" fill="#0BE8FF" stroke="#000" stroke-width="2.8"/>
<circle cx="732.0" cy="602.3" r="5.9" fill="#FFE500" stroke="#000" stroke-width="2.8"/>
<circle cx="723.1" cy="643.0" r="5.9" fill="#FFE500" stroke="#000" stroke-width="2.8"/>
<circle cx="814.5" cy="663.4" r="5.9" fill="#FFE500" stroke="#000" stroke-width="2.8"/>
<circle cx="834.3" cy="705.8" r="5.9" fill="#FFE500" stroke="#000" stroke-width="2.8"/>
<circle cx="657.0" cy="666.9" r="5.9" fill="#FFE500" stroke="#000" stroke-width="2.8"/>
<circle cx="637.5" cy="675.0" r="5.9" fill="#FFE500" stroke="#000" stroke-width="2.8"/>
<circle cx="630.5" cy="683.1" r="5.9" fill="#FFE500" stroke="#000" stroke-width="2.8"/>
<circle cx="731.3" cy="700.0" r="5.9" fill="#FFE500" stroke="#000" stroke-width="2.8"/>
<circle cx="740.6" cy="701.9" r="5.9" fill="#FFE500" stroke="#000" stroke-width="2.8"/>
<circle cx="637.5" cy="710.2" r="5.9" fill="#FFE500" stroke="#000" stroke-width="2.8"/>
<circle cx="707.5" cy="712.8" r="5.9" fill="#FFE500" stroke="#000" stroke-width="2.8"/>
<circle cx="701.6" cy="715.6" r="5.9" fill="#FFE500" stroke="#000" stroke-width="2.8"/>
<circle cx="669.5" cy="726.6" r="5.9" fill="#FFE500" stroke="#000" stroke-width="2.8"/>
<circle cx="670.3" cy="719.5" r="5.9" fill="#0BE8FF" stroke="#000" stroke-width="2.8"/>
<circle cx="699.7" cy="725.8" r="5.9" fill="#0BE8FF" stroke="#000" stroke-width="2.8"/>
<circle cx="732.8" cy="735.9" r="5.9" fill="#FFE500" stroke="#000" stroke-width="2.8"/>
<circle cx="647.7" cy="738.3" r="5.9" fill="#0BE8FF" stroke="#000" stroke-width="2.8"/>
<circle cx="692.2" cy="748.4" r="5.9" fill="#FFE500" stroke="#000" stroke-width="2.8"/>
<circle cx="720.0" cy="746.1" r="5.9" fill="#FFE500" stroke="#000" stroke-width="2.8"/>
<circle cx="712.8" cy="754.7" r="5.9" fill="#FFE500" stroke="#000" stroke-width="2.8"/>
<circle cx="649.2" cy="763.3" r="5.9" fill="#FFE500" stroke="#000" stroke-width="2.8"/>
<circle cx="673.4" cy="762.8" r="5.9" fill="#FFE500" stroke="#000" stroke-width="2.8"/>
<circle cx="712.8" cy="767.5" r="5.9" fill="#FFE500" stroke="#000" stroke-width="2.8"/>
<circle cx="754.4" cy="759.4" r="5.9" fill="#FFE500" stroke="#000" stroke-width="2.8"/>
<circle cx="697.7" cy="774.7" r="5.9" fill="#000" stroke="#000" stroke-width="2.8"/>
<circle cx="693.4" cy="775.0" r="5.9" fill="#0BE8FF" stroke="#000" stroke-width="2.8"/>
<circle cx="743.4" cy="771.9" r="5.9" fill="#FFE500" stroke="#000" stroke-width="2.8"/>
<circle cx="755.5" cy="779.7" r="5.9" fill="#FFE500" stroke="#000" stroke-width="2.8"/>
<circle cx="766.4" cy="783.6" r="5.9" fill="#0BE8FF" stroke="#000" stroke-width="2.8"/>
<circle cx="777.0" cy="788.3" r="5.9" fill="#FFE500" stroke="#000" stroke-width="2.8"/>
<circle cx="681.3" cy="814.4" r="5.9" fill="#FFE500" stroke="#000" stroke-width="2.8"/>
<circle cx="676.9" cy="805.8" r="5.9" fill="#0BE8FF" stroke="#000" stroke-width="2.8"/>
<circle cx="666.9" cy="824.5" r="5.9" fill="#FFE500" stroke="#000" stroke-width="2.8"/>
<circle cx="715.3" cy="828.4" r="5.9" fill="#0BE8FF" stroke="#000" stroke-width="2.8"/>
<circle cx="789.3" cy="842.6" r="5.9" fill="#FFE500" stroke="#000" stroke-width="2.8"/>
<circle cx="664.4" cy="848.4" r="5.9" fill="#0BE8FF" stroke="#000" stroke-width="2.8"/>
<circle cx="668.0" cy="856.9" r="5.9" fill="#0BE8FF" stroke="#000" stroke-width="2.8"/>
<circle cx="645.6" cy="854.2" r="5.9" fill="#0BE8FF" stroke="#000" stroke-width="2.8"/>
<circle cx="716.9" cy="862.8" r="5.9" fill="#FFE500" stroke="#000" stroke-width="2.8"/>
<circle cx="744.5" cy="860.5" r="5.9" fill="#FFE500" stroke="#000" stroke-width="2.8"/>
<circle cx="651.3" cy="877.7" r="5.9" fill="#0BE8FF" stroke="#000" stroke-width="2.8"/>
<circle cx="678.1" cy="874.5" r="5.9" fill="#000" stroke="#000" stroke-width="2.8"/>
<circle cx="681.3" cy="876.9" r="5.9" fill="#0BE8FF" stroke="#000" stroke-width="2.8"/>
<circle cx="660.5" cy="892.5" r="5.9" fill="#0BE8FF" stroke="#000" stroke-width="2.8"/>
<circle cx="675.0" cy="895.6" r="5.9" fill="#FFE500" stroke="#000" stroke-width="2.8"/>
<circle cx="782.6" cy="924.2" r="5.9" fill="#FFE500" stroke="#000" stroke-width="2.8"/>
<circle cx="901.0" cy="666.2" r="5.9" fill="#0BE8FF" stroke="#000" stroke-width="2.8"/>
<circle cx="997.5" cy="702.4" r="5.9" fill="#0BE8FF" stroke="#000" stroke-width="2.8"/>
<circle cx="890.9" cy="759.1" r="5.9" fill="#FFE500" stroke="#000" stroke-width="2.8"/>
<circle cx="916.3" cy="757.5" r="5.9" fill="#FFE500" stroke="#000" stroke-width="2.8"/>
<circle cx="914.2" cy="814.2" r="5.9" fill="#FFE500" stroke="#000" stroke-width="2.8"/>
<circle cx="736.7" cy="829.7" r="15" fill="#FA0026" stroke="#000" stroke-width="3.2"/>
<circle cx="728.9" cy="873.4" r="12.7" fill="#2800FA" stroke="#000" stroke-width="3.2"/>
</g>
<rect x="72.1" y="525.6" width="952.2" height="500.0" fill="none" stroke="#000" stroke-width="3.2"/>
<line x1="199.1" y1="525.6" x2="199.1" y2="538.1" stroke="#000" stroke-width="2"/>
<line x1="199.1" y1="1025.6" x2="199.1" y2="1013.1" stroke="#000" stroke-width="2"/>
<line x1="326.0" y1="525.6" x2="326.0" y2="538.1" stroke="#000" stroke-width="2"/>
<line x1="326.0" y1="1025.6" x2="326.0" y2="1013.1" stroke="#000" stroke-width="2"/>
<line x1="453.0" y1="525.6" x2="453.0" y2="538.1" stroke="#000" stroke-width="2"/>
<line x1="453.0" y1="1025.6" x2="453.0" y2="1013.1" stroke="#000" stroke-width="2"/>
<line x1="579.9" y1="525.6" x2="579.9" y2="538.1" stroke="#000" stroke-width="2"/>
<line x1="579.9" y1="1025.6" x2="579.9" y2="1013.1" stroke="#000" stroke-width="2"/>
<line x1="706.9" y1="525.6" x2="706.9" y2="538.1" stroke="#000" stroke-width="2"/>
<line x1="706.9" y1="1025.6" x2="706.9" y2="1013.1" stroke="#000" stroke-width="2"/>
<line x1="833.9" y1="525.6" x2="833.9" y2="538.1" stroke="#000" stroke-width="2"/>
<line x1="833.9" y1="1025.6" x2="833.9" y2="1013.1" stroke="#000" stroke-width="2"/>
<line x1="960.8" y1="525.6" x2="960.8" y2="538.1" stroke="#000" stroke-width="2"/>
<line x1="960.8" y1="1025.6" x2="960.8" y2="1013.1" stroke="#000" stroke-width="2"/>
<line x1="72.1" y1="942.3" x2="84.6" y2="942.3" stroke="#000" stroke-width="2"/>
<line x1="1024.3" y1="942.3" x2="1011.8" y2="942.3" stroke="#000" stroke-width="2"/>
<text x="62.8" y="946.4" text-anchor="end" font-size="24">12</text>
<line x1="72.1" y1="858.9" x2="84.6" y2="858.9" stroke="#000" stroke-width="2"/>
<line x1="1024.3" y1="858.9" x2="1011.8" y2="858.9" stroke="#000" stroke-width="2"/>
<text x="62.8" y="863.1" text-anchor="end" font-size="24">14</text>
<line x1="72.1" y1="775.6" x2="84.6" y2="775.6" stroke="#000" stroke-width="2"/>
<line x1="1024.3" y1="775.6" x2="1011.8" y2="775.6" stroke="#000" stroke-width="2"/>
<text x="62.8" y="779.7" text-anchor="end" font-size="24">16</text>
<line x1="72.1" y1="692.3" x2="84.6" y2="692.3" stroke="#000" stroke-width="2"/>
<line x1="1024.3" y1="692.3" x2="1011.8" y2="692.3" stroke="#000" stroke-width="2"/>
<text x="62.8" y="696.4" text-anchor="end" font-size="24">18</text>
<line x1="72.1" y1="608.9" x2="84.6" y2="608.9" stroke="#000" stroke-width="2"/>
<line x1="1024.3" y1="608.9" x2="1011.8" y2="608.9" stroke="#000" stroke-width="2"/>
<text x="62.8" y="613.1" text-anchor="end" font-size="24">20</text>
<text x="193" y="991.2" font-size="25">SLEC3</text>
<clipPath id="cp4"><rect x="1145.6" y="525.6" width="952.2" height="500.0"/></clipPath><g clip-path="url(#cp4)">
<ellipse cx="1808.5" cy="709.5" rx="104.5" ry="90" transform="rotate(8 1808.5 709.5)" fill="#EDBDBD"/>
<circle cx="1222.2" cy="638.8" r="11.1" fill="#8CF70A" stroke="#000" stroke-width="3"/>
<circle cx="1252.5" cy="703.4" r="11.1" fill="#8CF70A" stroke="#000" stroke-width="3"/>
<circle cx="1286.3" cy="759.1" r="11.1" fill="#8CF70A" stroke="#000" stroke-width="3"/>
<circle cx="1400.0" cy="681.6" r="11.1" fill="#8CF70A" stroke="#000" stroke-width="3"/>
<circle cx="1423.4" cy="735.6" r="11.1" fill="#8CF70A" stroke="#000" stroke-width="3"/>
<circle cx="1483.5" cy="780.6" r="11.1" fill="#8CF70A" stroke="#000" stroke-width="3"/>
<circle cx="1404.1" cy="600.3" r="5.9" fill="#FFE500" stroke="#000" stroke-width="2.8"/>
<circle cx="1579.3" cy="540.6" r="5.9" fill="#FFE500" stroke="#000" stroke-width="2.8"/>
<circle cx="1496.1" cy="575.2" r="5.9" fill="#FFE500" stroke="#000" stroke-width="2.8"/>
<circle cx="1522.1" cy="567.9" r="5.9" fill="#FFE500" stroke="#000" stroke-width="2.8"/>
<circle cx="1535.5" cy="584.4" r="5.9" fill="#FFE500" stroke="#000" stroke-width="2.8"/>
<circle cx="1538.6" cy="575.5" r="5.9" fill="#FFE500" stroke="#000" stroke-width="2.8"/>
<circle cx="1663.8" cy="567.9" r="5.9" fill="#FFE500" stroke="#000" stroke-width="2.8"/>
<circle cx="1525.8" cy="601.5" r="5.9" fill="#FFE500" stroke="#000" stroke-width="2.8"/>
<circle cx="1501.7" cy="611.2" r="5.9" fill="#FFE500" stroke="#000" stroke-width="2.8"/>
<circle cx="1583.8" cy="605.6" r="5.9" fill="#FFE500" stroke="#000" stroke-width="2.8"/>
<circle cx="1636.1" cy="601.0" r="5.9" fill="#0BE8FF" stroke="#000" stroke-width="2.8"/>
<circle cx="1614.7" cy="616.1" r="5.9" fill="#0BE8FF" stroke="#000" stroke-width="2.8"/>
<circle cx="1649.6" cy="615.6" r="5.9" fill="#FFE500" stroke="#000" stroke-width="2.8"/>
<circle cx="1695.1" cy="609.6" r="5.9" fill="#0BE8FF" stroke="#000" stroke-width="2.8"/>
<circle cx="1532.6" cy="632.7" r="5.9" fill="#FFE500" stroke="#000" stroke-width="2.8"/>
<circle cx="1645.1" cy="630.7" r="5.9" fill="#FFE500" stroke="#000" stroke-width="2.8"/>
<circle cx="1659.4" cy="634.0" r="5.9" fill="#000" stroke="#000" stroke-width="2.8"/>
<circle cx="1658.2" cy="629.9" r="5.9" fill="#0BE8FF" stroke="#000" stroke-width="2.8"/>
<circle cx="1681.8" cy="634.5" r="5.9" fill="#FFE500" stroke="#000" stroke-width="2.8"/>
<circle cx="1654.2" cy="642.9" r="5.9" fill="#0BE8FF" stroke="#000" stroke-width="2.8"/>
<circle cx="1649.3" cy="654.3" r="5.9" fill="#0BE8FF" stroke="#000" stroke-width="2.8"/>
<circle cx="1621.2" cy="651.5" r="5.9" fill="#FFE500" stroke="#000" stroke-width="2.8"/>
<circle cx="1455.4" cy="654.8" r="5.9" fill="#FFE500" stroke="#000" stroke-width="2.8"/>
<circle cx="1549.4" cy="651.1" r="5.9" fill="#FFE500" stroke="#000" stroke-width="2.8"/>
<circle cx="1512.6" cy="662.0" r="5.9" fill="#FFE500" stroke="#000" stroke-width="2.8"/>
<circle cx="1593.2" cy="662.1" r="5.9" fill="#FFE500" stroke="#000" stroke-width="2.8"/>
<circle cx="1697.6" cy="655.9" r="5.9" fill="#FFE500" stroke="#000" stroke-width="2.8"/>
<circle cx="1689.4" cy="648.6" r="5.9" fill="#0BE8FF" stroke="#000" stroke-width="2.8"/>
<circle cx="1675.6" cy="656.4" r="5.9" fill="#0BE8FF" stroke="#000" stroke-width="2.8"/>
<circle cx="1686.2" cy="658.4" r="5.9" fill="#0BE8FF" stroke="#000" stroke-width="2.8"/>
<circle cx="1668.3" cy="663.6" r="5.9" fill="#0BE8FF" stroke="#000" stroke-width="2.8"/>
<circle cx="1697.6" cy="666.5" r="5.9" fill="#0BE8FF" stroke="#000" stroke-width="2.8"/>
<circle cx="1495.2" cy="683.6" r="5.9" fill="#FFE500" stroke="#000" stroke-width="2.8"/>
<circle cx="1490.4" cy="677.1" r="5.9" fill="#FFE500" stroke="#000" stroke-width="2.8"/>
<circle cx="1492.0" cy="687.6" r="5.9" fill="#FFE500" stroke="#000" stroke-width="2.8"/>
<circle cx="1564.6" cy="680.3" r="5.9" fill="#FFE500" stroke="#000" stroke-width="2.8"/>
<circle cx="1648.5" cy="678.4" r="5.9" fill="#FFE500" stroke="#000" stroke-width="2.8"/>
<circle cx="1675.1" cy="682.7" r="5.9" fill="#FFE500" stroke="#000" stroke-width="2.8"/>
<circle cx="1697.6" cy="682.7" r="5.9" fill="#FFE500" stroke="#000" stroke-width="2.8"/>
<circle cx="1609.0" cy="695.4" r="5.9" fill="#0BE8FF" stroke="#000" stroke-width="2.8"/>
<circle cx="1494.8" cy="703.9" r="5.9" fill="#FFE500" stroke="#000" stroke-width="2.8"/>
<circle cx="1499.8" cy="710.4" r="5.9" fill="#FFE500" stroke="#000" stroke-width="2.8"/>
<circle cx="1512.6" cy="705.5" r="5.9" fill="#FFE500" stroke="#000" stroke-width="2.8"/>
<circle cx="1652.9" cy="707.1" r="5.9" fill="#FFE500" stroke="#000" stroke-width="2.8"/>
<circle cx="1605.3" cy="723.0" r="5.9" fill="#FFE500" stroke="#000" stroke-width="2.8"/>
<circle cx="1591.4" cy="736.7" r="5.9" fill="#0BE8FF" stroke="#000" stroke-width="2.8"/>
<circle cx="1456.7" cy="744.8" r="5.9" fill="#FFE500" stroke="#000" stroke-width="2.8"/>
<circle cx="1460.0" cy="757.0" r="5.9" fill="#FFE500" stroke="#000" stroke-width="2.8"/>
<circle cx="1491.7" cy="760.4" r="5.9" fill="#FFE500" stroke="#000" stroke-width="2.8"/>
<circle cx="1576.0" cy="751.3" r="5.9" fill="#FFE500" stroke="#000" stroke-width="2.8"/>
<circle cx="1652.9" cy="746.1" r="5.9" fill="#FFE500" stroke="#000" stroke-width="2.8"/>
<circle cx="1658.6" cy="753.0" r="5.9" fill="#FFE500" stroke="#000" stroke-width="2.8"/>
<circle cx="1639.9" cy="755.5" r="5.9" fill="#FFE500" stroke="#000" stroke-width="2.8"/>
<circle cx="1648.8" cy="755.1" r="5.9" fill="#0BE8FF" stroke="#000" stroke-width="2.8"/>
<circle cx="1698.4" cy="747.0" r="5.9" fill="#0BE8FF" stroke="#000" stroke-width="2.8"/>
<circle cx="1691.9" cy="744.2" r="5.9" fill="#0BE8FF" stroke="#000" stroke-width="2.8"/>
<circle cx="1689.4" cy="757.5" r="5.9" fill="#FFE500" stroke="#000" stroke-width="2.8"/>
<circle cx="1678.9" cy="768.1" r="5.9" fill="#FFE500" stroke="#000" stroke-width="2.8"/>
<circle cx="1706.0" cy="766.4" r="5.9" fill="#FFE500" stroke="#000" stroke-width="2.8"/>
<circle cx="1702.0" cy="768.0" r="5.9" fill="#FFE500" stroke="#000" stroke-width="2.8"/>
<circle cx="1546.8" cy="772.6" r="5.9" fill="#FFE500" stroke="#000" stroke-width="2.8"/>
<circle cx="1609.8" cy="769.7" r="5.9" fill="#FFE500" stroke="#000" stroke-width="2.8"/>
<circle cx="1634.5" cy="796.0" r="5.9" fill="#FFE500" stroke="#000" stroke-width="2.8"/>
<circle cx="1592.4" cy="817.9" r="5.9" fill="#FFE500" stroke="#000" stroke-width="2.8"/>
<circle cx="1626.4" cy="836.3" r="5.9" fill="#FFE500" stroke="#000" stroke-width="2.8"/>
<circle cx="1653.4" cy="834.5" r="5.9" fill="#FFE500" stroke="#000" stroke-width="2.8"/>
<circle cx="1674.5" cy="824.4" r="5.9" fill="#FFE500" stroke="#000" stroke-width="2.8"/>
<circle cx="1687.0" cy="854.0" r="5.9" fill="#FFE500" stroke="#000" stroke-width="2.8"/>
<circle cx="1532.9" cy="866.7" r="5.9" fill="#FFE500" stroke="#000" stroke-width="2.8"/>
<circle cx="1609.0" cy="940.1" r="5.9" fill="#FFE500" stroke="#000" stroke-width="2.8"/>
<circle cx="1620.4" cy="945.0" r="5.9" fill="#FFE500" stroke="#000" stroke-width="2.8"/>
<circle cx="1734.4" cy="602.6" r="5.9" fill="#0BE8FF" stroke="#000" stroke-width="2.8"/>
<circle cx="1748.2" cy="626.6" r="5.9" fill="#FFE500" stroke="#000" stroke-width="2.8"/>
<circle cx="1740.9" cy="630.7" r="5.9" fill="#FFE500" stroke="#000" stroke-width="2.8"/>
<circle cx="1738.5" cy="651.0" r="5.9" fill="#0BE8FF" stroke="#000" stroke-width="2.8"/>
<circle cx="1749.5" cy="655.1" r="5.9" fill="#FFE500" stroke="#000" stroke-width="2.8"/>
<circle cx="1725.8" cy="662.4" r="5.9" fill="#0BE8FF" stroke="#000" stroke-width="2.8"/>
<circle cx="1753.1" cy="672.1" r="5.9" fill="#000" stroke="#000" stroke-width="2.8"/>
<circle cx="1756.4" cy="668.9" r="5.9" fill="#0BE8FF" stroke="#000" stroke-width="2.8"/>
<circle cx="1751.5" cy="666.4" r="5.9" fill="#0BE8FF" stroke="#000" stroke-width="2.8"/>
<circle cx="1719.8" cy="685.1" r="5.9" fill="#0BE8FF" stroke="#000" stroke-width="2.8"/>
<circle cx="1731.2" cy="691.6" r="5.9" fill="#FFE500" stroke="#000" stroke-width="2.8"/>
<circle cx="1742.6" cy="695.7" r="5.9" fill="#0BE8FF" stroke="#000" stroke-width="2.8"/>
<circle cx="1755.6" cy="698.1" r="5.9" fill="#FFE500" stroke="#000" stroke-width="2.8"/>
<circle cx="1791.8" cy="670.2" r="5.9" fill="#FFE500" stroke="#000" stroke-width="2.8"/>
<circle cx="1856.6" cy="657.5" r="5.9" fill="#FFE500" stroke="#000" stroke-width="2.8"/>
<circle cx="1864.3" cy="692.6" r="5.9" fill="#FFE500" stroke="#000" stroke-width="2.8"/>
<circle cx="1828.7" cy="708.7" r="5.9" fill="#FFE500" stroke="#000" stroke-width="2.8"/>
<circle cx="1790.5" cy="724.1" r="5.9" fill="#0BE8FF" stroke="#000" stroke-width="2.8"/>
<circle cx="1773.9" cy="728.7" r="5.9" fill="#0BE8FF" stroke="#000" stroke-width="2.8"/>
<circle cx="1714.1" cy="755.8" r="5.9" fill="#FFE500" stroke="#000" stroke-width="2.8"/>
<circle cx="1745.0" cy="757.0" r="5.9" fill="#0BE8FF" stroke="#000" stroke-width="2.8"/>
<circle cx="1787.2" cy="751.7" r="5.9" fill="#FFE500" stroke="#000" stroke-width="2.8"/>
<circle cx="1794.6" cy="752.2" r="5.9" fill="#FFE500" stroke="#000" stroke-width="2.8"/>
<circle cx="1818.1" cy="752.1" r="5.9" fill="#FFE500" stroke="#000" stroke-width="2.8"/>
<circle cx="1813.2" cy="763.1" r="5.9" fill="#FFE500" stroke="#000" stroke-width="2.8"/>
<circle cx="1818.4" cy="766.4" r="5.9" fill="#FFE500" stroke="#000" stroke-width="2.8"/>
<circle cx="1888.8" cy="753.6" r="5.9" fill="#FFE500" stroke="#000" stroke-width="2.8"/>
<circle cx="1850.6" cy="781.0" r="5.9" fill="#FFE500" stroke="#000" stroke-width="2.8"/>
<circle cx="1769.0" cy="789.5" r="5.9" fill="#FFE500" stroke="#000" stroke-width="2.8"/>
<circle cx="1797.0" cy="793.4" r="5.9" fill="#FFE500" stroke="#000" stroke-width="2.8"/>
<circle cx="1807.6" cy="794.8" r="5.9" fill="#FFE500" stroke="#000" stroke-width="2.8"/>
<circle cx="1806.1" cy="799.5" r="5.9" fill="#FFE500" stroke="#000" stroke-width="2.8"/>
<circle cx="1817.3" cy="805.4" r="5.9" fill="#FFE500" stroke="#000" stroke-width="2.8"/>
<circle cx="1840.5" cy="801.6" r="5.9" fill="#0BE8FF" stroke="#000" stroke-width="2.8"/>
<circle cx="1829.4" cy="812.2" r="5.9" fill="#FFE500" stroke="#000" stroke-width="2.8"/>
<circle cx="1908.2" cy="811.4" r="5.9" fill="#FFE500" stroke="#000" stroke-width="2.8"/>
<circle cx="1721.9" cy="808.0" r="5.9" fill="#0BE8FF" stroke="#000" stroke-width="2.8"/>
<circle cx="1766.8" cy="807.9" r="5.9" fill="#0BE8FF" stroke="#000" stroke-width="2.8"/>
<circle cx="1711.0" cy="815.0" r="5.9" fill="#FFE500" stroke="#000" stroke-width="2.8"/>
<circle cx="1743.8" cy="815.3" r="5.9" fill="#FFE500" stroke="#000" stroke-width="2.8"/>
<circle cx="1765.8" cy="835.8" r="5.9" fill="#FFE500" stroke="#000" stroke-width="2.8"/>
<circle cx="1775.6" cy="861.3" r="5.9" fill="#FFE500" stroke="#000" stroke-width="2.8"/>
<circle cx="1796.7" cy="862.8" r="5.9" fill="#0BE8FF" stroke="#000" stroke-width="2.8"/>
<circle cx="1710.8" cy="915.0" r="5.9" fill="#FFE500" stroke="#000" stroke-width="2.8"/>
<circle cx="1850.6" cy="915.7" r="5.9" fill="#0BE8FF" stroke="#000" stroke-width="2.8"/>
<circle cx="1710.8" cy="950.5" r="5.9" fill="#FFE500" stroke="#000" stroke-width="2.8"/>
<circle cx="1723.5" cy="961.3" r="5.9" fill="#FFE500" stroke="#000" stroke-width="2.8"/>
<circle cx="1786.8" cy="947.5" r="5.9" fill="#FFE500" stroke="#000" stroke-width="2.8"/>
<circle cx="1780.5" cy="988.3" r="5.9" fill="#FFE500" stroke="#000" stroke-width="2.8"/>
<circle cx="1990.1" cy="750.9" r="5.9" fill="#FFE500" stroke="#000" stroke-width="2.8"/>
<circle cx="1988.2" cy="800.6" r="5.9" fill="#FFE500" stroke="#000" stroke-width="2.8"/>
<circle cx="1964.6" cy="812.3" r="5.9" fill="#FFE500" stroke="#000" stroke-width="2.8"/>
<circle cx="1974.8" cy="830.4" r="5.9" fill="#0BE8FF" stroke="#000" stroke-width="2.8"/>
<circle cx="2071.1" cy="836.8" r="5.9" fill="#0BE8FF" stroke="#000" stroke-width="2.8"/>
<circle cx="1604.4" cy="778.0" r="11.1" fill="#8CF70A" stroke="#000" stroke-width="3"/>
<circle cx="1803.2" cy="691.6" r="12.7" fill="#2800FA" stroke="#000" stroke-width="3.2"/>
<circle cx="1810.8" cy="724.9" r="15" fill="#FA0026" stroke="#000" stroke-width="3.2"/>
</g>
<rect x="1145.6" y="525.6" width="952.2" height="500.0" fill="none" stroke="#000" stroke-width="3.2"/>
<line x1="1272.6" y1="525.6" x2="1272.6" y2="538.1" stroke="#000" stroke-width="2"/>
<line x1="1272.6" y1="1025.6" x2="1272.6" y2="1013.1" stroke="#000" stroke-width="2"/>
<line x1="1399.5" y1="525.6" x2="1399.5" y2="538.1" stroke="#000" stroke-width="2"/>
<line x1="1399.5" y1="1025.6" x2="1399.5" y2="1013.1" stroke="#000" stroke-width="2"/>
<line x1="1526.5" y1="525.6" x2="1526.5" y2="538.1" stroke="#000" stroke-width="2"/>
<line x1="1526.5" y1="1025.6" x2="1526.5" y2="1013.1" stroke="#000" stroke-width="2"/>
<line x1="1653.4" y1="525.6" x2="1653.4" y2="538.1" stroke="#000" stroke-width="2"/>
<line x1="1653.4" y1="1025.6" x2="1653.4" y2="1013.1" stroke="#000" stroke-width="2"/>
<line x1="1780.4" y1="525.6" x2="1780.4" y2="538.1" stroke="#000" stroke-width="2"/>
<line x1="1780.4" y1="1025.6" x2="1780.4" y2="1013.1" stroke="#000" stroke-width="2"/>
<line x1="1907.4" y1="525.6" x2="1907.4" y2="538.1" stroke="#000" stroke-width="2"/>
<line x1="1907.4" y1="1025.6" x2="1907.4" y2="1013.1" stroke="#000" stroke-width="2"/>
<line x1="2034.3" y1="525.6" x2="2034.3" y2="538.1" stroke="#000" stroke-width="2"/>
<line x1="2034.3" y1="1025.6" x2="2034.3" y2="1013.1" stroke="#000" stroke-width="2"/>
<line x1="1145.6" y1="954.2" x2="1158.1" y2="954.2" stroke="#000" stroke-width="2"/>
<line x1="2097.8" y1="954.2" x2="2085.3" y2="954.2" stroke="#000" stroke-width="2"/>
<text x="1126.0" y="958.3" text-anchor="end" font-size="24">4</text>
<line x1="1145.6" y1="882.7" x2="1158.1" y2="882.7" stroke="#000" stroke-width="2"/>
<line x1="2097.8" y1="882.7" x2="2085.3" y2="882.7" stroke="#000" stroke-width="2"/>
<text x="1126.0" y="886.8" text-anchor="end" font-size="24">6</text>
<line x1="1145.6" y1="811.3" x2="1158.1" y2="811.3" stroke="#000" stroke-width="2"/>
<line x1="2097.8" y1="811.3" x2="2085.3" y2="811.3" stroke="#000" stroke-width="2"/>
<text x="1126.0" y="815.4" text-anchor="end" font-size="24">8</text>
<line x1="1145.6" y1="739.9" x2="1158.1" y2="739.9" stroke="#000" stroke-width="2"/>
<line x1="2097.8" y1="739.9" x2="2085.3" y2="739.9" stroke="#000" stroke-width="2"/>
<text x="1126.0" y="744.0" text-anchor="end" font-size="24">10</text>
<line x1="1145.6" y1="668.5" x2="1158.1" y2="668.5" stroke="#000" stroke-width="2"/>
<line x1="2097.8" y1="668.5" x2="2085.3" y2="668.5" stroke="#000" stroke-width="2"/>
<text x="1126.0" y="672.6" text-anchor="end" font-size="24">12</text>
<line x1="1145.6" y1="597.0" x2="1158.1" y2="597.0" stroke="#000" stroke-width="2"/>
<line x1="2097.8" y1="597.0" x2="2085.3" y2="597.0" stroke="#000" stroke-width="2"/>
<text x="1126.0" y="601.1" text-anchor="end" font-size="24">14</text>
<clipPath id="cp5"><rect x="72.1" y="1025.6" width="952.2" height="499.9"/></clipPath><g clip-path="url(#cp5)">
<ellipse cx="719.5" cy="1241.2" rx="103.2" ry="91" transform="rotate(4 719.5 1241.2)" fill="#EDBDBD"/>
<circle cx="212.5" cy="1190.0" r="11.1" fill="#8CF70A" stroke="#000" stroke-width="3"/>
<circle cx="350.0" cy="1196.6" r="11.1" fill="#8CF70A" stroke="#000" stroke-width="3"/>
<circle cx="409.5" cy="1211.5" r="11.1" fill="#8CF70A" stroke="#000" stroke-width="3"/>
<circle cx="148.4" cy="1362.2" r="11.1" fill="#8CF70A" stroke="#000" stroke-width="3"/>
<circle cx="178.8" cy="1385.3" r="11.1" fill="#8CF70A" stroke="#000" stroke-width="3"/>
<circle cx="326.3" cy="1377.5" r="11.1" fill="#8CF70A" stroke="#000" stroke-width="3"/>
<circle cx="382.8" cy="1131.5" r="5.9" fill="#FFE500" stroke="#000" stroke-width="2.8"/>
<circle cx="385.9" cy="1203.5" r="5.9" fill="#FFE500" stroke="#000" stroke-width="2.8"/>
<circle cx="417.7" cy="1190.7" r="5.9" fill="#FFE500" stroke="#000" stroke-width="2.8"/>
<circle cx="423.5" cy="1191.5" r="5.9" fill="#FFE500" stroke="#000" stroke-width="2.8"/>
<circle cx="428.1" cy="1199.8" r="5.9" fill="#FFE500" stroke="#000" stroke-width="2.8"/>
<circle cx="456.9" cy="1210.5" r="5.9" fill="#FFE500" stroke="#000" stroke-width="2.8"/>
<circle cx="418.4" cy="1243.5" r="5.9" fill="#FFE500" stroke="#000" stroke-width="2.8"/>
<circle cx="426.3" cy="1257.6" r="5.9" fill="#FFE500" stroke="#000" stroke-width="2.8"/>
<circle cx="416.4" cy="1278.6" r="5.9" fill="#FFE500" stroke="#000" stroke-width="2.8"/>
<circle cx="452.0" cy="1281.5" r="5.9" fill="#FFE500" stroke="#000" stroke-width="2.8"/>
<circle cx="381.8" cy="1295.5" r="5.9" fill="#FFE500" stroke="#000" stroke-width="2.8"/>
<circle cx="464.8" cy="1293.6" r="5.9" fill="#FFE500" stroke="#000" stroke-width="2.8"/>
<circle cx="421.0" cy="1324.4" r="5.9" fill="#FFE500" stroke="#000" stroke-width="2.8"/>
<circle cx="438.9" cy="1345.6" r="5.9" fill="#FFE500" stroke="#000" stroke-width="2.8"/>
<circle cx="330.9" cy="1356.6" r="5.9" fill="#FFE500" stroke="#000" stroke-width="2.8"/>
<circle cx="448.0" cy="1376.5" r="5.9" fill="#FFE500" stroke="#000" stroke-width="2.8"/>
<circle cx="421.0" cy="1385.5" r="5.9" fill="#FFE500" stroke="#000" stroke-width="2.8"/>
<circle cx="459.0" cy="1385.5" r="5.9" fill="#FFE500" stroke="#000" stroke-width="2.8"/>
<circle cx="461.8" cy="1406.7" r="5.9" fill="#FFE500" stroke="#000" stroke-width="2.8"/>
<circle cx="475.6" cy="1413.5" r="5.9" fill="#FFE500" stroke="#000" stroke-width="2.8"/>
<circle cx="510.0" cy="1353.7" r="5.9" fill="#FFE500" stroke="#000" stroke-width="2.8"/>
<circle cx="535.4" cy="1378.4" r="5.9" fill="#FFE500" stroke="#000" stroke-width="2.8"/>
<circle cx="519.4" cy="1330.7" r="5.9" fill="#FFE500" stroke="#000" stroke-width="2.8"/>
<circle cx="505.6" cy="1501.5" r="5.9" fill="#FFE500" stroke="#000" stroke-width="2.8"/>
<circle cx="473.1" cy="1152.5" r="5.9" fill="#FFE500" stroke="#000" stroke-width="2.8"/>
<circle cx="490.8" cy="1147.5" r="5.9" fill="#FFE500" stroke="#000" stroke-width="2.8"/>
<circle cx="517.7" cy="1135.6" r="5.9" fill="#0BE8FF" stroke="#000" stroke-width="2.8"/>
<circle cx="546.6" cy="1126.4" r="5.9" fill="#FFE500" stroke="#000" stroke-width="2.8"/>
<circle cx="575.9" cy="1121.7" r="5.9" fill="#FFE500" stroke="#000" stroke-width="2.8"/>
<circle cx="605.3" cy="1144.5" r="5.9" fill="#FFE500" stroke="#000" stroke-width="2.8"/>
<circle cx="574.7" cy="1172.5" r="5.9" fill="#0BE8FF" stroke="#000" stroke-width="2.8"/>
<circle cx="623.9" cy="1179.5" r="5.9" fill="#0BE8FF" stroke="#000" stroke-width="2.8"/>
<circle cx="631.3" cy="1181.4" r="5.9" fill="#FFE500" stroke="#000" stroke-width="2.8"/>
<circle cx="502.3" cy="1193.6" r="5.9" fill="#FFE500" stroke="#000" stroke-width="2.8"/>
<circle cx="536.1" cy="1196.3" r="5.9" fill="#FFE500" stroke="#000" stroke-width="2.8"/>
<circle cx="535.3" cy="1204.1" r="5.9" fill="#0BE8FF" stroke="#000" stroke-width="2.8"/>
<circle cx="608.2" cy="1205.0" r="5.9" fill="#FFE500" stroke="#000" stroke-width="2.8"/>
<circle cx="615.4" cy="1215.0" r="5.9" fill="#FFE500" stroke="#000" stroke-width="2.8"/>
<circle cx="602.1" cy="1216.9" r="5.9" fill="#0BE8FF" stroke="#000" stroke-width="2.8"/>
<circle cx="622.1" cy="1223.6" r="5.9" fill="#FFE500" stroke="#000" stroke-width="2.8"/>
<circle cx="628.1" cy="1224.4" r="5.9" fill="#FFE500" stroke="#000" stroke-width="2.8"/>
<circle cx="574.7" cy="1215.8" r="5.9" fill="#FFE500" stroke="#000" stroke-width="2.8"/>
<circle cx="566.1" cy="1221.3" r="5.9" fill="#FFE500" stroke="#000" stroke-width="2.8"/>
<circle cx="580.6" cy="1226.7" r="5.9" fill="#0BE8FF" stroke="#000" stroke-width="2.8"/>
<circle cx="595.0" cy="1231.4" r="5.9" fill="#0BE8FF" stroke="#000" stroke-width="2.8"/>
<circle cx="516.9" cy="1235.3" r="5.9" fill="#FFE500" stroke="#000" stroke-width="2.8"/>
<circle cx="560.6" cy="1248.6" r="5.9" fill="#FFE500" stroke="#000" stroke-width="2.8"/>
<circle cx="563.0" cy="1240.8" r="5.9" fill="#0BE8FF" stroke="#000" stroke-width="2.8"/>
<circle cx="548.1" cy="1248.1" r="5.9" fill="#FFE500" stroke="#000" stroke-width="2.8"/>
<circle cx="541.1" cy="1253.8" r="5.9" fill="#0BE8FF" stroke="#000" stroke-width="2.8"/>
<circle cx="577.8" cy="1244.7" r="5.9" fill="#FFE500" stroke="#000" stroke-width="2.8"/>
<circle cx="584.8" cy="1247.0" r="5.9" fill="#0BE8FF" stroke="#000" stroke-width="2.8"/>
<circle cx="613.1" cy="1240.3" r="5.9" fill="#0BE8FF" stroke="#000" stroke-width="2.8"/>
<circle cx="607.9" cy="1247.8" r="5.9" fill="#0BE8FF" stroke="#000" stroke-width="2.8"/>
<circle cx="615.5" cy="1257.2" r="5.9" fill="#0BE8FF" stroke="#000" stroke-width="2.8"/>
<circle cx="621.9" cy="1262.7" r="5.9" fill="#0BE8FF" stroke="#000" stroke-width="2.8"/>
<circle cx="580.2" cy="1266.6" r="5.9" fill="#FFE500" stroke="#000" stroke-width="2.8"/>
<circle cx="570.0" cy="1259.5" r="5.9" fill="#FFE500" stroke="#000" stroke-width="2.8"/>
<circle cx="584.8" cy="1254.8" r="5.9" fill="#0BE8FF" stroke="#000" stroke-width="2.8"/>
<circle cx="575.5" cy="1258.4" r="5.9" fill="#0BE8FF" stroke="#000" stroke-width="2.8"/>
<circle cx="601.4" cy="1272.5" r="5.9" fill="#FFE500" stroke="#000" stroke-width="2.8"/>
<circle cx="589.5" cy="1280.3" r="5.9" fill="#FFE500" stroke="#000" stroke-width="2.8"/>
<circle cx="625.4" cy="1275.8" r="5.9" fill="#0BE8FF" stroke="#000" stroke-width="2.8"/>
<circle cx="530.9" cy="1285.3" r="5.9" fill="#FFE500" stroke="#000" stroke-width="2.8"/>
<circle cx="552.4" cy="1297.5" r="5.9" fill="#FFE500" stroke="#000" stroke-width="2.8"/>
<circle cx="613.6" cy="1334.0" r="5.9" fill="#FFE500" stroke="#000" stroke-width="2.8"/>
<circle cx="637.5" cy="1319.7" r="5.9" fill="#FFE500" stroke="#000" stroke-width="2.8"/>
<circle cx="637.0" cy="1345.6" r="5.9" fill="#FFE500" stroke="#000" stroke-width="2.8"/>
<circle cx="600.9" cy="1356.5" r="5.9" fill="#FFE500" stroke="#000" stroke-width="2.8"/>
<circle cx="692.1" cy="1301.3" r="5.9" fill="#FFE500" stroke="#000" stroke-width="2.8"/>
<circle cx="680.9" cy="1293.4" r="5.9" fill="#FFE500" stroke="#000" stroke-width="2.8"/>
<circle cx="676.6" cy="1133.0" r="5.9" fill="#FFE500" stroke="#000" stroke-width="2.8"/>
<circle cx="671.1" cy="1133.8" r="5.9" fill="#0BE8FF" stroke="#000" stroke-width="2.8"/>
<circle cx="673.4" cy="1143.1" r="5.9" fill="#FFE500" stroke="#000" stroke-width="2.8"/>
<circle cx="719.1" cy="1117.3" r="5.9" fill="#FFE500" stroke="#000" stroke-width="2.8"/>
<circle cx="732.8" cy="1118.4" r="5.9" fill="#FFE500" stroke="#000" stroke-width="2.8"/>
<circle cx="754.4" cy="1114.7" r="5.9" fill="#FFE500" stroke="#000" stroke-width="2.8"/>
<circle cx="713.3" cy="1140.3" r="5.9" fill="#FFE500" stroke="#000" stroke-width="2.8"/>
<circle cx="776.6" cy="1130.3" r="5.9" fill="#FFE500" stroke="#000" stroke-width="2.8"/>
<circle cx="789.5" cy="1136.5" r="5.9" fill="#FFE500" stroke="#000" stroke-width="2.8"/>
<circle cx="776.6" cy="1143.9" r="5.9" fill="#0BE8FF" stroke="#000" stroke-width="2.8"/>
<circle cx="732.0" cy="1156.4" r="5.9" fill="#FFE500" stroke="#000" stroke-width="2.8"/>
<circle cx="731.6" cy="1169.7" r="5.9" fill="#FFE500" stroke="#000" stroke-width="2.8"/>
<circle cx="693.8" cy="1182.5" r="5.9" fill="#FFE500" stroke="#000" stroke-width="2.8"/>
<circle cx="700.0" cy="1174.4" r="5.9" fill="#0BE8FF" stroke="#000" stroke-width="2.8"/>
<circle cx="701.6" cy="1197.8" r="5.9" fill="#FFE500" stroke="#000" stroke-width="2.8"/>
<circle cx="814.5" cy="1185.6" r="5.9" fill="#FFE500" stroke="#000" stroke-width="2.8"/>
<circle cx="636.7" cy="1195.9" r="5.9" fill="#FFE500" stroke="#000" stroke-width="2.8"/>
<circle cx="680.5" cy="1222.8" r="5.9" fill="#FFE500" stroke="#000" stroke-width="2.8"/>
<circle cx="676.6" cy="1216.6" r="5.9" fill="#0BE8FF" stroke="#000" stroke-width="2.8"/>
<circle cx="717.5" cy="1223.6" r="5.9" fill="#FFE500" stroke="#000" stroke-width="2.8"/>
<circle cx="744.1" cy="1224.1" r="5.9" fill="#FFE500" stroke="#000" stroke-width="2.8"/>
<circle cx="834.4" cy="1223.6" r="5.9" fill="#FFE500" stroke="#000" stroke-width="2.8"/>
<circle cx="680.9" cy="1232.7" r="5.9" fill="#0BE8FF" stroke="#000" stroke-width="2.8"/>
<circle cx="693.0" cy="1237.7" r="5.9" fill="#0BE8FF" stroke="#000" stroke-width="2.8"/>
<circle cx="706.3" cy="1240.8" r="5.9" fill="#FFE500" stroke="#000" stroke-width="2.8"/>
<circle cx="721.1" cy="1236.9" r="5.9" fill="#0BE8FF" stroke="#000" stroke-width="2.8"/>
<circle cx="715.6" cy="1244.7" r="5.9" fill="#0BE8FF" stroke="#000" stroke-width="2.8"/>
<circle cx="766.4" cy="1240.3" r="5.9" fill="#0BE8FF" stroke="#000" stroke-width="2.8"/>
<circle cx="711.7" cy="1283.8" r="5.9" fill="#FFE500" stroke="#000" stroke-width="2.8"/>
<circle cx="743.4" cy="1285.3" r="5.9" fill="#FFE500" stroke="#000" stroke-width="2.8"/>
<circle cx="755.8" cy="1284.5" r="5.9" fill="#FFE500" stroke="#000" stroke-width="2.8"/>
<circle cx="782.6" cy="1279.7" r="5.9" fill="#FFE500" stroke="#000" stroke-width="2.8"/>
<circle cx="638.3" cy="1236.1" r="5.9" fill="#FFE500" stroke="#000" stroke-width="2.8"/>
<circle cx="645.3" cy="1238.4" r="5.9" fill="#0BE8FF" stroke="#000" stroke-width="2.8"/>
<circle cx="656.3" cy="1238.4" r="5.9" fill="#FFE500" stroke="#000" stroke-width="2.8"/>
<circle cx="664.1" cy="1229.8" r="5.9" fill="#0BE8FF" stroke="#000" stroke-width="2.8"/>
<circle cx="666.4" cy="1240.8" r="5.9" fill="#FFE500" stroke="#000" stroke-width="2.8"/>
<circle cx="648.4" cy="1252.5" r="5.9" fill="#FFE500" stroke="#000" stroke-width="2.8"/>
<circle cx="651.6" cy="1258.0" r="5.9" fill="#0BE8FF" stroke="#000" stroke-width="2.8"/>
<circle cx="660.2" cy="1254.1" r="5.9" fill="#0BE8FF" stroke="#000" stroke-width="2.8"/>
<circle cx="672.0" cy="1256.5" r="5.9" fill="#000" stroke="#000" stroke-width="2.8"/>
<circle cx="669.5" cy="1255.6" r="5.9" fill="#0BE8FF" stroke="#000" stroke-width="2.8"/>
<circle cx="647.7" cy="1275.9" r="5.9" fill="#0BE8FF" stroke="#000" stroke-width="2.8"/>
<circle cx="692.2" cy="1300.2" r="5.9" fill="#FFE500" stroke="#000" stroke-width="2.8"/>
<circle cx="637.5" cy="1319.7" r="5.9" fill="#FFE500" stroke="#000" stroke-width="2.8"/>
<circle cx="916.2" cy="1141.6" r="5.9" fill="#FFE500" stroke="#000" stroke-width="2.8"/>
<circle cx="997.5" cy="1140.8" r="5.9" fill="#0BE8FF" stroke="#000" stroke-width="2.8"/>
<circle cx="914.4" cy="1167.8" r="5.9" fill="#FFE500" stroke="#000" stroke-width="2.8"/>
<circle cx="890.9" cy="1212.5" r="5.9" fill="#FFE500" stroke="#000" stroke-width="2.8"/>
<circle cx="901.1" cy="1284.8" r="5.9" fill="#0BE8FF" stroke="#000" stroke-width="2.8"/>
<circle cx="531.7" cy="1234.1" r="11.1" fill="#8CF70A" stroke="#000" stroke-width="3"/>
<circle cx="736.7" cy="1247.0" r="15" fill="#FA0026" stroke="#000" stroke-width="3.2"/>
<circle cx="745.3" cy="1231.4" r="5.9" fill="#FFE500" stroke="#000" stroke-width="2.8"/>
<circle cx="728.9" cy="1276.7" r="12.7" fill="#2800FA" stroke="#000" stroke-width="3.2"/>
</g>
<rect x="72.1" y="1025.6" width="952.2" height="499.9" fill="none" stroke="#000" stroke-width="3.2"/>
<line x1="199.1" y1="1025.6" x2="199.1" y2="1038.1" stroke="#000" stroke-width="2"/>
<line x1="199.1" y1="1525.5" x2="199.1" y2="1513.0" stroke="#000" stroke-width="2"/>
<line x1="326.0" y1="1025.6" x2="326.0" y2="1038.1" stroke="#000" stroke-width="2"/>
<line x1="326.0" y1="1525.5" x2="326.0" y2="1513.0" stroke="#000" stroke-width="2"/>
<line x1="453.0" y1="1025.6" x2="453.0" y2="1038.1" stroke="#000" stroke-width="2"/>
<line x1="453.0" y1="1525.5" x2="453.0" y2="1513.0" stroke="#000" stroke-width="2"/>
<line x1="579.9" y1="1025.6" x2="579.9" y2="1038.1" stroke="#000" stroke-width="2"/>
<line x1="579.9" y1="1525.5" x2="579.9" y2="1513.0" stroke="#000" stroke-width="2"/>
<line x1="706.9" y1="1025.6" x2="706.9" y2="1038.1" stroke="#000" stroke-width="2"/>
<line x1="706.9" y1="1525.5" x2="706.9" y2="1513.0" stroke="#000" stroke-width="2"/>
<line x1="833.9" y1="1025.6" x2="833.9" y2="1038.1" stroke="#000" stroke-width="2"/>
<line x1="833.9" y1="1525.5" x2="833.9" y2="1513.0" stroke="#000" stroke-width="2"/>
<line x1="960.8" y1="1025.6" x2="960.8" y2="1038.1" stroke="#000" stroke-width="2"/>
<line x1="960.8" y1="1525.5" x2="960.8" y2="1513.0" stroke="#000" stroke-width="2"/>
<line x1="72.1" y1="1425.5" x2="84.6" y2="1425.5" stroke="#000" stroke-width="2"/>
<line x1="1024.3" y1="1425.5" x2="1011.8" y2="1425.5" stroke="#000" stroke-width="2"/>
<text x="64.5" y="1431.5" text-anchor="end" font-size="24">1</text>
<line x1="72.1" y1="1325.5" x2="84.6" y2="1325.5" stroke="#000" stroke-width="2"/>
<line x1="1024.3" y1="1325.5" x2="1011.8" y2="1325.5" stroke="#000" stroke-width="2"/>
<text x="64.5" y="1331.5" text-anchor="end" font-size="24">2</text>
<line x1="72.1" y1="1225.6" x2="84.6" y2="1225.6" stroke="#000" stroke-width="2"/>
<line x1="1024.3" y1="1225.6" x2="1011.8" y2="1225.6" stroke="#000" stroke-width="2"/>
<text x="64.5" y="1231.6" text-anchor="end" font-size="24">3</text>
<line x1="72.1" y1="1125.6" x2="84.6" y2="1125.6" stroke="#000" stroke-width="2"/>
<line x1="1024.3" y1="1125.6" x2="1011.8" y2="1125.6" stroke="#000" stroke-width="2"/>
<text x="64.5" y="1131.6" text-anchor="end" font-size="24">4</text>
<clipPath id="cp6"><rect x="1145.6" y="1025.6" width="952.2" height="499.9"/></clipPath><g clip-path="url(#cp6)">
<ellipse cx="1802" cy="1485.5" rx="107" ry="38.5" transform="rotate(2 1802 1485.5)" fill="#EDBDBD"/>
<circle cx="1222.5" cy="1507.2" r="11.1" fill="#8CF70A" stroke="#000" stroke-width="3"/>
<circle cx="1252.5" cy="1508.5" r="11.1" fill="#8CF70A" stroke="#000" stroke-width="3"/>
<circle cx="1286.7" cy="1455.6" r="11.1" fill="#8CF70A" stroke="#000" stroke-width="3"/>
<circle cx="1483.3" cy="1458.8" r="11.1" fill="#8CF70A" stroke="#000" stroke-width="3"/>
<circle cx="1404.4" cy="1498.2" r="5.9" fill="#FFE500" stroke="#000" stroke-width="2.8"/>
<circle cx="1457.0" cy="1488.8" r="5.9" fill="#FFE500" stroke="#000" stroke-width="2.8"/>
<circle cx="1455.6" cy="1507.2" r="5.9" fill="#FFE500" stroke="#000" stroke-width="2.8"/>
<circle cx="1499.8" cy="1280.6" r="5.9" fill="#FFE500" stroke="#000" stroke-width="2.8"/>
<circle cx="1663.8" cy="1300.5" r="5.9" fill="#FFE500" stroke="#000" stroke-width="2.8"/>
<circle cx="1652.9" cy="1333.9" r="5.9" fill="#FFE500" stroke="#000" stroke-width="2.8"/>
<circle cx="1546.8" cy="1352.1" r="5.9" fill="#FFE500" stroke="#000" stroke-width="2.8"/>
<circle cx="1512.6" cy="1359.0" r="5.9" fill="#FFE500" stroke="#000" stroke-width="2.8"/>
<circle cx="1525.8" cy="1370.4" r="5.9" fill="#FFE500" stroke="#000" stroke-width="2.8"/>
<circle cx="1593.1" cy="1367.2" r="5.9" fill="#FFE500" stroke="#000" stroke-width="2.8"/>
<circle cx="1696.7" cy="1374.0" r="5.9" fill="#FFE500" stroke="#000" stroke-width="2.8"/>
<circle cx="1675.1" cy="1387.0" r="5.9" fill="#FFE500" stroke="#000" stroke-width="2.8"/>
<circle cx="1494.6" cy="1398.9" r="5.9" fill="#000" stroke="#000" stroke-width="2.8"/>
<circle cx="1496.1" cy="1398.9" r="5.9" fill="#FFE500" stroke="#000" stroke-width="2.8"/>
<circle cx="1564.6" cy="1398.9" r="5.9" fill="#FFE500" stroke="#000" stroke-width="2.8"/>
<circle cx="1644.7" cy="1404.1" r="5.9" fill="#FFE500" stroke="#000" stroke-width="2.8"/>
<circle cx="1649.6" cy="1404.1" r="5.9" fill="#FFE500" stroke="#000" stroke-width="2.8"/>
<circle cx="1538.6" cy="1433.8" r="5.9" fill="#FFE500" stroke="#000" stroke-width="2.8"/>
<circle cx="1604.6" cy="1440.6" r="5.9" fill="#FFE500" stroke="#000" stroke-width="2.8"/>
<circle cx="1621.2" cy="1440.3" r="5.9" fill="#FFE500" stroke="#000" stroke-width="2.8"/>
<circle cx="1648.5" cy="1436.9" r="5.9" fill="#FFE500" stroke="#000" stroke-width="2.8"/>
<circle cx="1592.4" cy="1448.7" r="5.9" fill="#FFE500" stroke="#000" stroke-width="2.8"/>
<circle cx="1695.6" cy="1445.5" r="5.9" fill="#FFE500" stroke="#000" stroke-width="2.8"/>
<circle cx="1678.9" cy="1453.6" r="5.9" fill="#FFE500" stroke="#000" stroke-width="2.8"/>
<circle cx="1495.0" cy="1475.5" r="5.9" fill="#FFE500" stroke="#000" stroke-width="2.8"/>
<circle cx="1535.5" cy="1470.4" r="5.9" fill="#FFE500" stroke="#000" stroke-width="2.8"/>
<circle cx="1576.2" cy="1468.6" r="5.9" fill="#FFE500" stroke="#000" stroke-width="2.8"/>
<circle cx="1653.4" cy="1477.2" r="5.9" fill="#FFE500" stroke="#000" stroke-width="2.8"/>
<circle cx="1658.2" cy="1468.2" r="5.9" fill="#FFE500" stroke="#000" stroke-width="2.8"/>
<circle cx="1639.9" cy="1480.4" r="5.9" fill="#FFE500" stroke="#000" stroke-width="2.8"/>
<circle cx="1620.7" cy="1480.4" r="5.9" fill="#FFE500" stroke="#000" stroke-width="2.8"/>
<circle cx="1604.9" cy="1485.3" r="5.9" fill="#FFE500" stroke="#000" stroke-width="2.8"/>
<circle cx="1583.5" cy="1492.3" r="5.9" fill="#FFE500" stroke="#000" stroke-width="2.8"/>
<circle cx="1676.0" cy="1479.1" r="5.9" fill="#0BE8FF" stroke="#000" stroke-width="2.8"/>
<circle cx="1654.2" cy="1493.4" r="5.9" fill="#0BE8FF" stroke="#000" stroke-width="2.8"/>
<circle cx="1491.7" cy="1491.8" r="5.9" fill="#FFE500" stroke="#000" stroke-width="2.8"/>
<circle cx="1501.8" cy="1500.5" r="5.9" fill="#FFE500" stroke="#000" stroke-width="2.8"/>
<circle cx="1532.6" cy="1491.3" r="5.9" fill="#FFE500" stroke="#000" stroke-width="2.8"/>
<circle cx="1532.6" cy="1500.4" r="5.9" fill="#FFE500" stroke="#000" stroke-width="2.8"/>
<circle cx="1549.4" cy="1515.4" r="5.9" fill="#FFE500" stroke="#000" stroke-width="2.8"/>
<circle cx="1492.0" cy="1524.0" r="5.9" fill="#FFE500" stroke="#000" stroke-width="2.8"/>
<circle cx="1520.0" cy="1524.0" r="5.9" fill="#FFE500" stroke="#000" stroke-width="2.8"/>
<circle cx="1615.0" cy="1507.2" r="5.9" fill="#0BE8FF" stroke="#000" stroke-width="2.8"/>
<circle cx="1626.5" cy="1512.1" r="5.9" fill="#FFE500" stroke="#000" stroke-width="2.8"/>
<circle cx="1634.2" cy="1520.2" r="5.9" fill="#FFE500" stroke="#000" stroke-width="2.8"/>
<circle cx="1636.3" cy="1513.7" r="5.9" fill="#0BE8FF" stroke="#000" stroke-width="2.8"/>
<circle cx="1648.8" cy="1509.7" r="5.9" fill="#0BE8FF" stroke="#000" stroke-width="2.8"/>
<circle cx="1658.6" cy="1508.1" r="5.9" fill="#0BE8FF" stroke="#000" stroke-width="2.8"/>
<circle cx="1657.7" cy="1518.6" r="5.9" fill="#0BE8FF" stroke="#000" stroke-width="2.8"/>
<circle cx="1669.1" cy="1506.4" r="5.9" fill="#0BE8FF" stroke="#000" stroke-width="2.8"/>
<circle cx="1680.5" cy="1513.7" r="5.9" fill="#0BE8FF" stroke="#000" stroke-width="2.8"/>
<circle cx="1686.8" cy="1507.5" r="5.9" fill="#0BE8FF" stroke="#000" stroke-width="2.8"/>
<circle cx="1695.5" cy="1517.0" r="5.9" fill="#0BE8FF" stroke="#000" stroke-width="2.8"/>
<circle cx="1680.5" cy="1522.7" r="5.9" fill="#FFE500" stroke="#000" stroke-width="2.8"/>
<circle cx="1702.3" cy="1507.3" r="5.9" fill="#FFE500" stroke="#000" stroke-width="2.8"/>
<circle cx="1731.0" cy="1340.6" r="5.9" fill="#FFE500" stroke="#000" stroke-width="2.8"/>
<circle cx="1744.0" cy="1339.0" r="5.9" fill="#FFE500" stroke="#000" stroke-width="2.8"/>
<circle cx="1704.4" cy="1360.4" r="5.9" fill="#FFE500" stroke="#000" stroke-width="2.8"/>
<circle cx="1806.6" cy="1380.6" r="5.9" fill="#FFE500" stroke="#000" stroke-width="2.8"/>
<circle cx="1789.4" cy="1409.6" r="5.9" fill="#0BE8FF" stroke="#000" stroke-width="2.8"/>
<circle cx="1814.4" cy="1415.6" r="5.9" fill="#FFE500" stroke="#000" stroke-width="2.8"/>
<circle cx="1805.9" cy="1427.3" r="5.9" fill="#FFE500" stroke="#000" stroke-width="2.8"/>
<circle cx="1768.5" cy="1431.9" r="5.9" fill="#FFE500" stroke="#000" stroke-width="2.8"/>
<circle cx="1774.0" cy="1438.1" r="5.9" fill="#0BE8FF" stroke="#000" stroke-width="2.8"/>
<circle cx="1766.6" cy="1447.5" r="5.9" fill="#0BE8FF" stroke="#000" stroke-width="2.8"/>
<circle cx="1750.6" cy="1450.3" r="5.9" fill="#0BE8FF" stroke="#000" stroke-width="2.8"/>
<circle cx="1850.0" cy="1446.3" r="5.9" fill="#FFE500" stroke="#000" stroke-width="2.8"/>
<circle cx="1850.6" cy="1437.1" r="5.9" fill="#0BE8FF" stroke="#000" stroke-width="2.8"/>
<circle cx="1863.1" cy="1445.6" r="5.9" fill="#FFE500" stroke="#000" stroke-width="2.8"/>
<circle cx="1908.1" cy="1477.3" r="5.9" fill="#FFE500" stroke="#000" stroke-width="2.8"/>
<circle cx="1840.6" cy="1472.1" r="5.9" fill="#0BE8FF" stroke="#000" stroke-width="2.8"/>
<circle cx="1829.4" cy="1480.6" r="5.9" fill="#FFE500" stroke="#000" stroke-width="2.8"/>
<circle cx="1817.5" cy="1478.0" r="5.9" fill="#000" stroke="#000" stroke-width="2.8"/>
<circle cx="1817.5" cy="1481.9" r="5.9" fill="#FFE500" stroke="#000" stroke-width="2.8"/>
<circle cx="1793.1" cy="1478.8" r="5.9" fill="#FFE500" stroke="#000" stroke-width="2.8"/>
<circle cx="1786.9" cy="1490.4" r="5.9" fill="#FFE500" stroke="#000" stroke-width="2.8"/>
<circle cx="1765.6" cy="1492.3" r="5.9" fill="#FFE500" stroke="#000" stroke-width="2.8"/>
<circle cx="1775.3" cy="1495.6" r="5.9" fill="#FFE500" stroke="#000" stroke-width="2.8"/>
<circle cx="1710.6" cy="1473.8" r="5.9" fill="#FFE500" stroke="#000" stroke-width="2.8"/>
<circle cx="1711.3" cy="1481.9" r="5.9" fill="#FFE500" stroke="#000" stroke-width="2.8"/>
<circle cx="1710.6" cy="1492.3" r="5.9" fill="#FFE500" stroke="#000" stroke-width="2.8"/>
<circle cx="1713.5" cy="1503.8" r="5.9" fill="#FFE500" stroke="#000" stroke-width="2.8"/>
<circle cx="1735.0" cy="1506.9" r="5.9" fill="#0BE8FF" stroke="#000" stroke-width="2.8"/>
<circle cx="1747.5" cy="1506.9" r="5.9" fill="#FFE500" stroke="#000" stroke-width="2.8"/>
<circle cx="1738.1" cy="1508.1" r="5.9" fill="#0BE8FF" stroke="#000" stroke-width="2.8"/>
<circle cx="1753.8" cy="1515.0" r="5.9" fill="#FFE500" stroke="#000" stroke-width="2.8"/>
<circle cx="1755.0" cy="1509.6" r="5.9" fill="#0BE8FF" stroke="#000" stroke-width="2.8"/>
<circle cx="1718.8" cy="1517.5" r="5.9" fill="#0BE8FF" stroke="#000" stroke-width="2.8"/>
<circle cx="1725.0" cy="1518.1" r="5.9" fill="#0BE8FF" stroke="#000" stroke-width="2.8"/>
<circle cx="1741.9" cy="1516.9" r="5.9" fill="#0BE8FF" stroke="#000" stroke-width="2.8"/>
<circle cx="1780.0" cy="1520.0" r="5.9" fill="#FFE500" stroke="#000" stroke-width="2.8"/>
<circle cx="1786.3" cy="1521.3" r="5.9" fill="#FFE500" stroke="#000" stroke-width="2.8"/>
<circle cx="1788.8" cy="1512.5" r="5.9" fill="#FFE500" stroke="#000" stroke-width="2.8"/>
<circle cx="1820.0" cy="1508.8" r="5.9" fill="#000" stroke="#000" stroke-width="2.8"/>
<circle cx="1696.7" cy="1054.0" r="5.9" fill="#0BE8FF" stroke="#000" stroke-width="2.8"/>
<circle cx="1692.3" cy="1100.7" r="5.9" fill="#0BE8FF" stroke="#000" stroke-width="2.8"/>
<circle cx="1648.5" cy="1125.9" r="5.9" fill="#0BE8FF" stroke="#000" stroke-width="2.8"/>
<circle cx="1674.3" cy="1150.6" r="5.9" fill="#FFE500" stroke="#000" stroke-width="2.8"/>
<circle cx="1579.3" cy="1162.4" r="5.9" fill="#FFE500" stroke="#000" stroke-width="2.8"/>
<circle cx="1591.4" cy="1155.4" r="5.9" fill="#0BE8FF" stroke="#000" stroke-width="2.8"/>
<circle cx="1460.0" cy="1185.7" r="5.9" fill="#FFE500" stroke="#000" stroke-width="2.8"/>
<circle cx="1689.7" cy="1200.6" r="5.9" fill="#FFE500" stroke="#000" stroke-width="2.8"/>
<circle cx="1609.8" cy="1260.7" r="5.9" fill="#000" stroke="#000" stroke-width="2.8"/>
<circle cx="1609.3" cy="1257.2" r="5.9" fill="#0BE8FF" stroke="#000" stroke-width="2.8"/>
<circle cx="1856.0" cy="1090.6" r="5.9" fill="#FFE500" stroke="#000" stroke-width="2.8"/>
<circle cx="1797.0" cy="1152.0" r="5.9" fill="#FFE500" stroke="#000" stroke-width="2.8"/>
<circle cx="1744.4" cy="1175.6" r="5.9" fill="#0BE8FF" stroke="#000" stroke-width="2.8"/>
<circle cx="1888.4" cy="1194.0" r="5.9" fill="#FFE500" stroke="#000" stroke-width="2.8"/>
<circle cx="1748.6" cy="1249.0" r="5.9" fill="#FFE500" stroke="#000" stroke-width="2.8"/>
<circle cx="1828.0" cy="1300.6" r="5.9" fill="#FFE500" stroke="#000" stroke-width="2.8"/>
<circle cx="1987.8" cy="1308.8" r="5.9" fill="#FFE500" stroke="#000" stroke-width="2.8"/>
<circle cx="1989.4" cy="1384.0" r="5.9" fill="#FFE500" stroke="#000" stroke-width="2.8"/>
<circle cx="1964.4" cy="1438.8" r="5.9" fill="#FFE500" stroke="#000" stroke-width="2.8"/>
<circle cx="1400.2" cy="1508.9" r="11.1" fill="#8CF70A" stroke="#000" stroke-width="3"/>
<circle cx="1424.0" cy="1520.0" r="11.1" fill="#8CF70A" stroke="#000" stroke-width="3"/>
<circle cx="1604.4" cy="1520.2" r="11.1" fill="#8CF70A" stroke="#000" stroke-width="3"/>
<circle cx="1810.0" cy="1497.5" r="15" fill="#FA0026" stroke="#000" stroke-width="3.2"/>
<circle cx="1802.5" cy="1515.5" r="12.7" fill="#2800FA" stroke="#000" stroke-width="3.2"/>
</g>
<rect x="1145.6" y="1025.6" width="952.2" height="499.9" fill="none" stroke="#000" stroke-width="3.2"/>
<line x1="1272.6" y1="1025.6" x2="1272.6" y2="1038.1" stroke="#000" stroke-width="2"/>
<line x1="1272.6" y1="1525.5" x2="1272.6" y2="1513.0" stroke="#000" stroke-width="2"/>
<line x1="1399.5" y1="1025.6" x2="1399.5" y2="1038.1" stroke="#000" stroke-width="2"/>
<line x1="1399.5" y1="1525.5" x2="1399.5" y2="1513.0" stroke="#000" stroke-width="2"/>
<line x1="1526.5" y1="1025.6" x2="1526.5" y2="1038.1" stroke="#000" stroke-width="2"/>
<line x1="1526.5" y1="1525.5" x2="1526.5" y2="1513.0" stroke="#000" stroke-width="2"/>
<line x1="1653.4" y1="1025.6" x2="1653.4" y2="1038.1" stroke="#000" stroke-width="2"/>
<line x1="1653.4" y1="1525.5" x2="1653.4" y2="1513.0" stroke="#000" stroke-width="2"/>
<line x1="1780.4" y1="1025.6" x2="1780.4" y2="1038.1" stroke="#000" stroke-width="2"/>
<line x1="1780.4" y1="1525.5" x2="1780.4" y2="1513.0" stroke="#000" stroke-width="2"/>
<line x1="1907.4" y1="1025.6" x2="1907.4" y2="1038.1" stroke="#000" stroke-width="2"/>
<line x1="1907.4" y1="1525.5" x2="1907.4" y2="1513.0" stroke="#000" stroke-width="2"/>
<line x1="2034.3" y1="1025.6" x2="2034.3" y2="1038.1" stroke="#000" stroke-width="2"/>
<line x1="2034.3" y1="1525.5" x2="2034.3" y2="1513.0" stroke="#000" stroke-width="2"/>
<line x1="1145.6" y1="1442.2" x2="1158.1" y2="1442.2" stroke="#000" stroke-width="2"/>
<line x1="2097.8" y1="1442.2" x2="2085.3" y2="1442.2" stroke="#000" stroke-width="2"/>
<text x="1120.7" y="1448.6" text-anchor="end" font-size="24">0.5</text>
<line x1="1145.6" y1="1358.9" x2="1158.1" y2="1358.9" stroke="#000" stroke-width="2"/>
<line x1="2097.8" y1="1358.9" x2="2085.3" y2="1358.9" stroke="#000" stroke-width="2"/>
<text x="1120.7" y="1365.3" text-anchor="end" font-size="24">1.0</text>
<line x1="1145.6" y1="1275.5" x2="1158.1" y2="1275.5" stroke="#000" stroke-width="2"/>
<line x1="2097.8" y1="1275.5" x2="2085.3" y2="1275.5" stroke="#000" stroke-width="2"/>
<text x="1120.7" y="1282.0" text-anchor="end" font-size="24">1.5</text>
<line x1="1145.6" y1="1192.2" x2="1158.1" y2="1192.2" stroke="#000" stroke-width="2"/>
<line x1="2097.8" y1="1192.2" x2="2085.3" y2="1192.2" stroke="#000" stroke-width="2"/>
<text x="1120.7" y="1198.6" text-anchor="end" font-size="24">2.0</text>
<line x1="1145.6" y1="1108.9" x2="1158.1" y2="1108.9" stroke="#000" stroke-width="2"/>
<line x1="2097.8" y1="1108.9" x2="2085.3" y2="1108.9" stroke="#000" stroke-width="2"/>
<text x="1120.7" y="1115.3" text-anchor="end" font-size="24">2.5</text>
<text x="77.6" y="1562" text-anchor="middle" font-size="25">40</text>
<text x="204.6" y="1562" text-anchor="middle" font-size="25">42</text>
<text x="331.5" y="1562" text-anchor="middle" font-size="25">44</text>
<text x="458.5" y="1562" text-anchor="middle" font-size="25">46</text>
<text x="585.4" y="1562" text-anchor="middle" font-size="25">48</text>
<text x="712.4" y="1562" text-anchor="middle" font-size="25">50</text>
<text x="839.4" y="1562" text-anchor="middle" font-size="25">52</text>
<text x="966.3" y="1562" text-anchor="middle" font-size="25">54</text>
<text x="1144.4" y="1562" text-anchor="middle" font-size="25">40</text>
<text x="1271.4" y="1562" text-anchor="middle" font-size="25">42</text>
<text x="1398.3" y="1562" text-anchor="middle" font-size="25">44</text>
<text x="1525.3" y="1562" text-anchor="middle" font-size="25">46</text>
<text x="1652.2" y="1562" text-anchor="middle" font-size="25">48</text>
<text x="1779.2" y="1562" text-anchor="middle" font-size="25">50</text>
<text x="1906.2" y="1562" text-anchor="middle" font-size="25">52</text>
<text x="2033.1" y="1562" text-anchor="middle" font-size="25">54</text>
<text x="515.5" y="1595.3" font-size="25">SiO<tspan font-size="17" dy="5">2</tspan></text>
<text x="1602.6" y="1595.3" font-size="25">SiO<tspan font-size="17" dy="5">2</tspan></text>
<text x="3.6" y="54.3" font-size="35" font-weight="bold">a</text>
<text x="1067.4" y="57.2" font-size="35" font-weight="bold">b</text>
<text x="3.6" y="555.9" font-size="35" font-weight="bold">c</text>
<text x="1067.4" y="559" font-size="35" font-weight="bold">d</text>
<text x="3.8" y="1064.5" font-size="35" font-weight="bold">e</text>
<text x="1072.3" y="1067.7" font-size="35" font-weight="bold">f</text>
<text transform="translate(20.3,283) rotate(-90)" text-anchor="middle" font-size="25">CaO</text>
<text transform="translate(1078,283.4) rotate(-90)" text-anchor="middle" font-size="25">MgO</text>
<text transform="translate(17.4,783) rotate(-90)" text-anchor="middle" font-size="25">Al<tspan font-size="17" dy="5.4">2</tspan><tspan dy="-5.4">O</tspan><tspan font-size="17" dy="5.4">3</tspan></text>
<text transform="translate(1080.3,783) rotate(-90)" text-anchor="middle" font-size="25">FeO</text>
<text transform="translate(17.8,1289.5) rotate(-90)" text-anchor="middle" font-size="25">Na<tspan font-size="17" dy="5.4">2</tspan><tspan dy="-5.4">O</tspan></text>
<text transform="translate(1077.8,1289) rotate(-90)" text-anchor="middle" font-size="25">K<tspan font-size="17" dy="5.4">2</tspan><tspan dy="-5.4">O</tspan></text>
</svg></body></html>
